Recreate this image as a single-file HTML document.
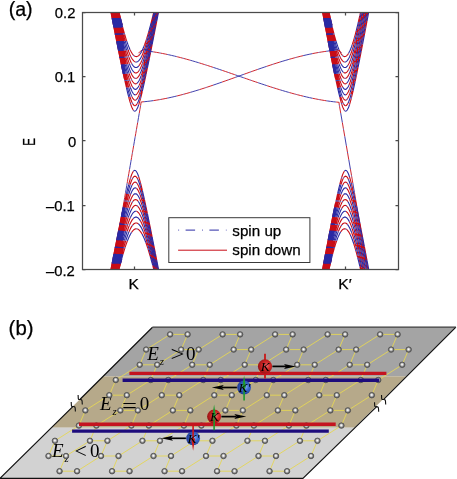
<!DOCTYPE html>
<html><head><meta charset="utf-8"><title>Band structure and valley transport</title>
<style>html,body{margin:0;padding:0;background:#fff;width:457px;height:479px;overflow:hidden}
body{position:relative}</style></head>
<body>
<svg width="457" height="479" viewBox="0 0 457 479" style="position:absolute;left:0;top:0">
<defs><clipPath id="pc"><rect x="82.5" y="12.5" width="316.0" height="257.0"/></clipPath>
<radialGradient id="atom" cx="0.48" cy="0.45" r="0.55"><stop offset="0" stop-color="#ffffff"/><stop offset="0.25" stop-color="#e4e4e4"/><stop offset="0.55" stop-color="#a0a0a0"/><stop offset="0.8" stop-color="#6a6a6a"/><stop offset="1" stop-color="#505050"/></radialGradient>
<radialGradient id="rball" cx="0.6" cy="0.45" r="0.6"><stop offset="0" stop-color="#ee6a6a"/><stop offset="0.45" stop-color="#d22828"/><stop offset="1" stop-color="#961212"/></radialGradient>
<radialGradient id="bball" cx="0.6" cy="0.45" r="0.6"><stop offset="0" stop-color="#7eaaf4"/><stop offset="0.45" stop-color="#3a66c8"/><stop offset="1" stop-color="#1c3690"/></radialGradient>
<clipPath id="plane"><polygon points="152.5,327.2 455.9,327.2 302.9,478.4 0,478.4"/></clipPath>
</defs>
<g clip-path="url(#pc)" fill="none">
<path stroke="#c80c16" stroke-width="1.1" stroke-dasharray="0 9.5 6.4 0.9 6.9 0" stroke-dashoffset="16.8" d="M110.91,11.29 L111.71,15.37 L112.5,19.45 L113.3,23.52 L114.1,27.58 L114.89,31.63 L115.69,35.67 L116.49,39.7 L117.28,43.71 L118.08,47.7 L118.87,51.67 L119.67,55.63 L120.47,59.55 L121.26,63.45 L122.06,67.32 L122.86,71.14 L123.65,74.92 L124.45,78.65 L125.24,82.31 L126.04,85.89 L126.84,89.38 L127.63,92.76 L128.43,95.99 L129.23,99.05 L130.02,101.9 L130.82,104.49 L131.61,106.75 L132.41,108.62 L133.21,110.02 L134,110.9 L134.8,111.19 L135.6,110.9 L136.39,110.02 L137.19,108.62 L137.99,106.75 L138.78,104.49 L139.58,101.9 L140.37,99.05 L141.17,95.99 L141.97,92.76 L142.76,89.38 L143.56,85.89 L144.36,82.31 L145.15,78.65 L145.95,74.92 L146.74,71.14 L147.54,67.32 L148.34,63.45 L149.13,59.55 L149.93,55.63 L150.73,51.67 L151.52,47.7 L152.32,43.71 L153.11,39.7 L153.91,35.67 L154.71,31.63 L155.5,27.58 L156.3,23.52 L157.1,19.45 L157.89,15.37 L158.69,11.29 M111.69,11.29 L112.47,15.28 L113.24,19.26 L114.02,23.24 L114.79,27.2 L115.57,31.14 L116.34,35.07 L117.12,38.98 L117.89,42.87 L118.67,46.74 L119.45,50.58 L120.22,54.39 L121,58.17 L121.77,61.92 L122.55,65.62 L123.32,69.27 L124.1,72.86 L124.87,76.38 L125.65,79.83 L126.42,83.18 L127.2,86.42 L127.97,89.52 L128.75,92.47 L129.52,95.23 L130.3,97.77 L131.07,100.04 L131.85,101.99 L132.62,103.58 L133.4,104.76 L134.17,105.49 L134.95,105.73 L135.73,105.49 L136.5,104.76 L137.28,103.58 L138.05,101.99 L138.83,100.04 L139.6,97.77 L140.38,95.23 L141.15,92.47 L141.93,89.52 L142.7,86.42 L143.48,83.18 L144.25,79.83 L145.03,76.38 L145.8,72.86 L146.58,69.27 L147.35,65.62 L148.13,61.92 L148.9,58.17 L149.68,54.39 L150.45,50.58 L151.23,46.74 L152.01,42.87 L152.78,38.98 L153.56,35.07 L154.33,31.14 L155.11,27.2 L155.88,23.24 L156.66,19.26 L157.43,15.28 L158.21,11.29 M112.47,11.29 L113.23,15.17 L113.98,19.05 L114.74,22.9 L115.49,26.75 L116.24,30.57 L117,34.37 L117.75,38.15 L118.51,41.9 L119.26,45.63 L120.02,49.32 L120.77,52.98 L121.52,56.59 L122.28,60.16 L123.03,63.68 L123.79,67.14 L124.54,70.52 L125.3,73.83 L126.05,77.05 L126.8,80.16 L127.56,83.14 L128.31,85.98 L129.07,88.66 L129.82,91.13 L130.57,93.39 L131.33,95.38 L132.08,97.08 L132.84,98.45 L133.59,99.45 L134.35,100.07 L135.1,100.27 L135.85,100.07 L136.61,99.45 L137.36,98.45 L138.12,97.08 L138.87,95.38 L139.63,93.39 L140.38,91.13 L141.13,88.66 L141.89,85.98 L142.64,83.14 L143.4,80.16 L144.15,77.05 L144.9,73.83 L145.66,70.52 L146.41,67.14 L147.17,63.68 L147.92,60.16 L148.68,56.59 L149.43,52.98 L150.18,49.32 L150.94,45.63 L151.69,41.9 L152.45,38.15 L153.2,34.37 L153.96,30.57 L154.71,26.75 L155.46,22.9 L156.22,19.05 L156.97,15.17 L157.73,11.29 M113.25,11.29 L113.99,15.05 L114.72,18.8 L115.45,22.52 L116.19,26.23 L116.92,29.92 L117.65,33.57 L118.39,37.2 L119.12,40.8 L119.85,44.37 L120.59,47.9 L121.32,51.38 L122.05,54.82 L122.78,58.2 L123.52,61.52 L124.25,64.77 L124.98,67.94 L125.72,71.03 L126.45,74.01 L127.18,76.87 L127.92,79.61 L128.65,82.19 L129.38,84.61 L130.12,86.82 L130.85,88.82 L131.58,90.58 L132.32,92.06 L133.05,93.24 L133.78,94.11 L134.52,94.63 L135.25,94.81 L135.98,94.63 L136.72,94.11 L137.45,93.24 L138.18,92.06 L138.92,90.58 L139.65,88.82 L140.38,86.82 L141.12,84.61 L141.85,82.19 L142.58,79.61 L143.32,76.87 L144.05,74.01 L144.78,71.03 L145.52,67.94 L146.25,64.77 L146.98,61.52 L147.72,58.2 L148.45,54.82 L149.18,51.38 L149.91,47.9 L150.65,44.37 L151.38,40.8 L152.11,37.2 L152.85,33.57 L153.58,29.92 L154.31,26.23 L155.05,22.52 L155.78,18.8 L156.51,15.05 L157.25,11.29 M114.03,11.29 L114.74,14.91 L115.46,18.52 L116.17,22.1 L116.88,25.66 L117.59,29.18 L118.3,32.68 L119.02,36.15 L119.73,39.58 L120.44,42.97 L121.15,46.32 L121.87,49.62 L122.58,52.86 L123.29,56.04 L124,59.15 L124.72,62.19 L125.43,65.14 L126.14,68 L126.85,70.74 L127.56,73.37 L128.28,75.86 L128.99,78.2 L129.7,80.37 L130.41,82.35 L131.13,84.12 L131.84,85.67 L132.55,86.96 L133.26,87.99 L133.98,88.74 L134.69,89.2 L135.4,89.35 L136.11,89.2 L136.82,88.74 L137.54,87.99 L138.25,86.96 L138.96,85.67 L139.67,84.12 L140.39,82.35 L141.1,80.37 L141.81,78.2 L142.52,75.86 L143.24,73.37 L143.95,70.74 L144.66,68 L145.37,65.14 L146.08,62.19 L146.8,59.15 L147.51,56.04 L148.22,52.86 L148.93,49.62 L149.65,46.32 L150.36,42.97 L151.07,39.58 L151.78,36.15 L152.5,32.68 L153.21,29.18 L153.92,25.66 L154.63,22.1 L155.34,18.52 L156.06,14.91 L156.77,11.29 M114.81,11.29 L115.5,14.76 L116.19,18.2 L116.88,21.63 L117.57,25.02 L118.27,28.38 L118.96,31.7 L119.65,34.99 L120.34,38.24 L121.03,41.44 L121.72,44.6 L122.41,47.69 L123.11,50.73 L123.8,53.7 L124.49,56.6 L125.18,59.42 L125.87,62.14 L126.56,64.77 L127.25,67.28 L127.94,69.67 L128.64,71.93 L129.33,74.04 L130.02,75.98 L130.71,77.74 L131.4,79.31 L132.09,80.68 L132.78,81.81 L133.48,82.71 L134.17,83.36 L134.86,83.76 L135.55,83.89 L136.24,83.76 L136.93,83.36 L137.62,82.71 L138.32,81.81 L139.01,80.68 L139.7,79.31 L140.39,77.74 L141.08,75.98 L141.77,74.04 L142.46,71.93 L143.16,69.67 L143.85,67.28 L144.54,64.77 L145.23,62.14 L145.92,59.42 L146.61,56.6 L147.3,53.7 L147.99,50.73 L148.69,47.69 L149.38,44.6 L150.07,41.44 L150.76,38.24 L151.45,34.99 L152.14,31.7 L152.83,28.38 L153.53,25.02 L154.22,21.63 L154.91,18.2 L155.6,14.76 L156.29,11.29 M115.58,11.29 L116.26,14.59 L116.93,17.86 L117.6,21.11 L118.27,24.32 L118.94,27.5 L119.61,30.64 L120.28,33.73 L120.95,36.78 L121.62,39.79 L122.29,42.73 L122.96,45.62 L123.63,48.45 L124.3,51.2 L124.97,53.88 L125.64,56.47 L126.31,58.97 L126.98,61.36 L127.65,63.65 L128.32,65.81 L128.99,67.85 L129.67,69.74 L130.34,71.47 L131.01,73.04 L131.68,74.42 L132.35,75.62 L133.02,76.62 L133.69,77.4 L134.36,77.97 L135.03,78.31 L135.7,78.43 L136.37,78.31 L137.04,77.97 L137.71,77.4 L138.38,76.62 L139.05,75.62 L139.72,74.42 L140.39,73.04 L141.06,71.47 L141.73,69.74 L142.41,67.85 L143.08,65.81 L143.75,63.65 L144.42,61.36 L145.09,58.97 L145.76,56.47 L146.43,53.88 L147.1,51.2 L147.77,48.45 L148.44,45.62 L149.11,42.73 L149.78,39.79 L150.45,36.78 L151.12,33.73 L151.79,30.64 L152.46,27.5 L153.13,24.32 L153.8,21.11 L154.47,17.86 L155.14,14.59 L155.82,11.29 M116.36,11.29 L117.01,14.4 L117.66,17.49 L118.31,20.54 L118.96,23.56 L119.61,26.54 L120.26,29.48 L120.91,32.37 L121.56,35.22 L122.21,38.01 L122.86,40.74 L123.51,43.41 L124.16,46.02 L124.81,48.55 L125.46,51 L126.1,53.36 L126.75,55.64 L127.4,57.81 L128.05,59.87 L128.7,61.82 L129.35,63.64 L130,65.32 L130.65,66.86 L131.3,68.24 L131.95,69.47 L132.6,70.52 L133.25,71.39 L133.9,72.07 L134.55,72.57 L135.2,72.87 L135.85,72.97 L136.5,72.87 L137.15,72.57 L137.8,72.07 L138.45,71.39 L139.1,70.52 L139.75,69.47 L140.4,68.24 L141.05,66.86 L141.7,65.32 L142.35,63.64 L143,61.82 L143.65,59.87 L144.3,57.81 L144.95,55.64 L145.6,53.36 L146.24,51 L146.89,48.55 L147.54,46.02 L148.19,43.41 L148.84,40.74 L149.49,38.01 L150.14,35.22 L150.79,32.37 L151.44,29.48 L152.09,26.54 L152.74,23.56 L153.39,20.54 L154.04,17.49 L154.69,14.4 L155.34,11.29 M117.13,11.29 L117.76,14.2 L118.39,17.09 L119.02,19.94 L119.65,22.75 L120.28,25.52 L120.91,28.24 L121.54,30.92 L122.16,33.54 L122.79,36.11 L123.42,38.62 L124.05,41.07 L124.68,43.45 L125.31,45.75 L125.94,47.98 L126.57,50.12 L127.2,52.17 L127.82,54.12 L128.45,55.97 L129.08,57.7 L129.71,59.32 L130.34,60.81 L130.97,62.17 L131.6,63.39 L132.23,64.46 L132.86,65.38 L133.48,66.13 L134.11,66.73 L134.74,67.16 L135.37,67.42 L136,67.5 L136.63,67.42 L137.26,67.16 L137.89,66.73 L138.52,66.13 L139.14,65.38 L139.77,64.46 L140.4,63.39 L141.03,62.17 L141.66,60.81 L142.29,59.32 L142.92,57.7 L143.55,55.97 L144.18,54.12 L144.8,52.17 L145.43,50.12 L146.06,47.98 L146.69,45.75 L147.32,43.45 L147.95,41.07 L148.58,38.62 L149.21,36.11 L149.84,33.54 L150.46,30.92 L151.09,28.24 L151.72,25.52 L152.35,22.75 L152.98,19.94 L153.61,17.09 L154.24,14.2 L154.87,11.29 M117.9,11.29 L118.51,13.99 L119.12,16.66 L119.73,19.29 L120.34,21.88 L120.95,24.42 L121.55,26.92 L122.16,29.37 L122.77,31.77 L123.38,34.11 L123.99,36.39 L124.59,38.61 L125.2,40.76 L125.81,42.83 L126.42,44.83 L127.03,46.75 L127.64,48.58 L128.24,50.31 L128.85,51.95 L129.46,53.48 L130.07,54.91 L130.68,56.22 L131.28,57.41 L131.89,58.47 L132.5,59.4 L133.11,60.2 L133.72,60.86 L134.33,61.38 L134.93,61.75 L135.54,61.97 L136.15,62.04 L136.76,61.97 L137.37,61.75 L137.97,61.38 L138.58,60.86 L139.19,60.2 L139.8,59.4 L140.41,58.47 L141.02,57.41 L141.62,56.22 L142.23,54.91 L142.84,53.48 L143.45,51.95 L144.06,50.31 L144.66,48.58 L145.27,46.75 L145.88,44.83 L146.49,42.83 L147.1,40.76 L147.71,38.61 L148.31,36.39 L148.92,34.11 L149.53,31.77 L150.14,29.37 L150.75,26.92 L151.35,24.42 L151.96,21.88 L152.57,19.29 L153.18,16.66 L153.79,13.99 L154.4,11.29 M118.67,11.29 L119.26,13.76 L119.85,16.2 L120.43,18.59 L121.02,20.95 L121.61,23.26 L122.2,25.52 L122.79,27.74 L123.37,29.9 L123.96,32 L124.55,34.05 L125.14,36.03 L125.72,37.95 L126.31,39.8 L126.9,41.57 L127.49,43.26 L128.07,44.88 L128.66,46.4 L129.25,47.84 L129.84,49.18 L130.42,50.42 L131.01,51.56 L131.6,52.59 L132.19,53.51 L132.77,54.31 L133.36,55 L133.95,55.57 L134.54,56.01 L135.12,56.33 L135.71,56.52 L136.3,56.58 L136.89,56.52 L137.48,56.33 L138.06,56.01 L138.65,55.57 L139.24,55 L139.83,54.31 L140.41,53.51 L141,52.59 L141.59,51.56 L142.18,50.42 L142.76,49.18 L143.35,47.84 L143.94,46.4 L144.53,44.88 L145.11,43.26 L145.7,41.57 L146.29,39.8 L146.88,37.95 L147.46,36.03 L148.05,34.05 L148.64,32 L149.23,29.9 L149.81,27.74 L150.4,25.52 L150.99,23.26 L151.58,20.95 L152.17,18.59 L152.75,16.2 L153.34,13.76 L153.93,11.29 M110.91,270.21 L111.71,266.13 L112.5,262.05 L113.3,257.98 L114.1,253.92 L114.89,249.87 L115.69,245.83 L116.49,241.8 L117.28,237.79 L118.08,233.8 L118.87,229.83 L119.67,225.87 L120.47,221.95 L121.26,218.05 L122.06,214.18 L122.86,210.36 L123.65,206.58 L124.45,202.85 L125.24,199.19 L126.04,195.61 L126.84,192.12 L127.63,188.74 L128.43,185.51 L129.23,182.45 L130.02,179.6 L130.82,177.01 L131.61,174.75 L132.41,172.88 L133.21,171.48 L134,170.6 L134.8,170.31 L135.6,170.6 L136.39,171.48 L137.19,172.88 L137.99,174.75 L138.78,177.01 L139.58,179.6 L140.37,182.45 L141.17,185.51 L141.97,188.74 L142.76,192.12 L143.56,195.61 L144.36,199.19 L145.15,202.85 L145.95,206.58 L146.74,210.36 L147.54,214.18 L148.34,218.05 L149.13,221.95 L149.93,225.87 L150.73,229.83 L151.52,233.8 L152.32,237.79 L153.11,241.8 L153.91,245.83 L154.71,249.87 L155.5,253.92 L156.3,257.98 L157.1,262.05 L157.89,266.13 L158.69,270.21 M111.69,270.21 L112.47,266.23 L113.24,262.25 L114.02,258.28 L114.79,254.33 L115.57,250.4 L116.34,246.48 L117.12,242.57 L117.89,238.69 L118.67,234.84 L119.45,231 L120.22,227.2 L121,223.43 L121.77,219.7 L122.55,216.01 L123.32,212.38 L124.1,208.8 L124.87,205.29 L125.65,201.86 L126.42,198.53 L127.2,195.31 L127.97,192.22 L128.75,189.29 L129.52,186.55 L130.3,184.03 L131.07,181.79 L131.85,179.85 L132.62,178.28 L133.4,177.11 L134.17,176.39 L134.95,176.15 L135.73,176.39 L136.5,177.11 L137.28,178.28 L138.05,179.85 L138.83,181.79 L139.6,184.03 L140.38,186.55 L141.15,189.29 L141.93,192.22 L142.7,195.31 L143.48,198.53 L144.25,201.86 L145.03,205.29 L145.8,208.8 L146.58,212.38 L147.35,216.01 L148.13,219.7 L148.9,223.43 L149.68,227.2 L150.45,231 L151.23,234.84 L152.01,238.69 L152.78,242.57 L153.56,246.48 L154.33,250.4 L155.11,254.33 L155.88,258.28 L156.66,262.25 L157.43,266.23 L158.21,270.21 M112.47,270.21 L113.23,266.34 L113.98,262.49 L114.74,258.65 L115.49,254.82 L116.24,251.02 L117,247.24 L117.75,243.48 L118.51,239.75 L119.26,236.04 L120.01,232.37 L120.77,228.74 L121.52,225.15 L122.28,221.6 L123.03,218.11 L123.79,214.68 L124.54,211.33 L125.29,208.05 L126.05,204.87 L126.8,201.79 L127.56,198.84 L128.31,196.04 L129.07,193.4 L129.82,190.96 L130.57,188.75 L131.33,186.79 L132.08,185.13 L132.84,183.79 L133.59,182.8 L134.35,182.2 L135.1,182 L135.85,182.2 L136.61,182.8 L137.36,183.79 L138.12,185.13 L138.87,186.79 L139.63,188.75 L140.38,190.96 L141.13,193.4 L141.89,196.04 L142.64,198.84 L143.4,201.79 L144.15,204.87 L144.91,208.05 L145.66,211.33 L146.41,214.68 L147.17,218.11 L147.92,221.6 L148.68,225.15 L149.43,228.74 L150.19,232.37 L150.94,236.04 L151.69,239.75 L152.45,243.48 L153.2,247.24 L153.96,251.02 L154.71,254.82 L155.46,258.65 L156.22,262.49 L156.97,266.34 L157.73,270.21 M113.25,270.21 L113.98,266.48 L114.72,262.76 L115.45,259.06 L116.18,255.39 L116.92,251.73 L117.65,248.11 L118.38,244.51 L119.12,240.94 L119.85,237.41 L120.58,233.92 L121.32,230.48 L122.05,227.08 L122.78,223.74 L123.52,220.47 L124.25,217.26 L124.98,214.13 L125.72,211.1 L126.45,208.17 L127.18,205.35 L127.92,202.67 L128.65,200.14 L129.38,197.78 L130.12,195.61 L130.85,193.66 L131.58,191.95 L132.32,190.51 L133.05,189.36 L133.78,188.53 L134.52,188.02 L135.25,187.85 L135.98,188.02 L136.72,188.53 L137.45,189.36 L138.18,190.51 L138.92,191.95 L139.65,193.66 L140.38,195.61 L141.12,197.78 L141.85,200.14 L142.58,202.67 L143.32,205.35 L144.05,208.17 L144.78,211.1 L145.52,214.13 L146.25,217.26 L146.98,220.47 L147.72,223.74 L148.45,227.08 L149.18,230.48 L149.92,233.92 L150.65,237.41 L151.38,240.94 L152.12,244.51 L152.85,248.11 L153.58,251.73 L154.32,255.39 L155.05,259.06 L155.78,262.76 L156.52,266.48 L157.25,270.21 M114.03,270.21 L114.74,266.63 L115.45,263.07 L116.17,259.53 L116.88,256.02 L117.59,252.54 L118.3,249.08 L119.02,245.66 L119.73,242.28 L120.44,238.95 L121.15,235.65 L121.86,232.41 L122.58,229.22 L123.29,226.1 L124,223.05 L124.71,220.07 L125.43,217.19 L126.14,214.4 L126.85,211.72 L127.56,209.16 L128.28,206.73 L128.99,204.46 L129.7,202.36 L130.41,200.44 L131.13,198.73 L131.84,197.24 L132.55,195.99 L133.26,194.99 L133.98,194.27 L134.69,193.84 L135.4,193.69 L136.11,193.84 L136.82,194.27 L137.54,194.99 L138.25,195.99 L138.96,197.24 L139.67,198.73 L140.39,200.44 L141.1,202.36 L141.81,204.46 L142.52,206.73 L143.24,209.16 L143.95,211.72 L144.66,214.4 L145.37,217.19 L146.09,220.07 L146.8,223.05 L147.51,226.1 L148.22,229.22 L148.94,232.41 L149.65,235.65 L150.36,238.95 L151.07,242.28 L151.78,245.66 L152.5,249.08 L153.21,252.54 L153.92,256.02 L154.63,259.53 L155.35,263.07 L156.06,266.63 L156.77,270.21 M114.81,270.21 L115.5,266.8 L116.19,263.41 L116.88,260.05 L117.57,256.72 L118.26,253.42 L118.95,250.16 L119.65,246.94 L120.34,243.76 L121.03,240.63 L121.72,237.55 L122.41,234.52 L123.1,231.56 L123.79,228.66 L124.49,225.84 L125.18,223.1 L125.87,220.46 L126.56,217.92 L127.25,215.48 L127.94,213.17 L128.64,211 L129.33,208.97 L130.02,207.1 L130.71,205.41 L131.4,203.9 L132.09,202.6 L132.78,201.52 L133.48,200.66 L134.17,200.04 L134.86,199.66 L135.55,199.54 L136.24,199.66 L136.93,200.04 L137.62,200.66 L138.32,201.52 L139.01,202.6 L139.7,203.9 L140.39,205.41 L141.08,207.1 L141.77,208.97 L142.46,211 L143.16,213.17 L143.85,215.48 L144.54,217.92 L145.23,220.46 L145.92,223.1 L146.61,225.84 L147.31,228.66 L148,231.56 L148.69,234.52 L149.38,237.55 L150.07,240.63 L150.76,243.76 L151.45,246.94 L152.15,250.16 L152.84,253.42 L153.53,256.72 L154.22,260.05 L154.91,263.41 L155.6,266.8 L156.29,270.21 M115.58,270.21 L116.25,266.99 L116.92,263.79 L117.59,260.63 L118.26,257.49 L118.93,254.4 L119.6,251.34 L120.27,248.33 L120.95,245.37 L121.62,242.45 L122.29,239.59 L122.96,236.8 L123.63,234.06 L124.3,231.4 L124.97,228.82 L125.64,226.33 L126.31,223.92 L126.98,221.62 L127.65,219.43 L128.32,217.36 L128.99,215.42 L129.66,213.62 L130.33,211.97 L131.01,210.48 L131.68,209.17 L132.35,208.04 L133.02,207.09 L133.69,206.35 L134.36,205.82 L135.03,205.49 L135.7,205.39 L136.37,205.49 L137.04,205.82 L137.71,206.35 L138.38,207.09 L139.05,208.04 L139.72,209.17 L140.39,210.48 L141.07,211.97 L141.74,213.62 L142.41,215.42 L143.08,217.36 L143.75,219.43 L144.42,221.62 L145.09,223.92 L145.76,226.33 L146.43,228.82 L147.1,231.4 L147.77,234.06 L148.44,236.8 L149.11,239.59 L149.78,242.45 L150.45,245.37 L151.13,248.33 L151.8,251.34 L152.47,254.4 L153.14,257.49 L153.81,260.63 L154.48,263.79 L155.15,266.99 L155.82,270.21 M116.35,270.21 L117,267.19 L117.65,264.2 L118.3,261.25 L118.95,258.33 L119.6,255.46 L120.25,252.62 L120.9,249.83 L121.55,247.1 L122.2,244.41 L122.85,241.79 L123.5,239.23 L124.15,236.74 L124.8,234.32 L125.45,231.98 L126.1,229.72 L126.75,227.56 L127.4,225.5 L128.05,223.54 L128.7,221.7 L129.35,219.98 L130,218.4 L130.65,216.95 L131.3,215.65 L131.95,214.5 L132.6,213.52 L133.25,212.7 L133.9,212.06 L134.55,211.6 L135.2,211.33 L135.85,211.23 L136.5,211.33 L137.15,211.6 L137.8,212.06 L138.45,212.7 L139.1,213.52 L139.75,214.5 L140.4,215.65 L141.05,216.95 L141.7,218.4 L142.35,219.98 L143,221.7 L143.65,223.54 L144.3,225.5 L144.95,227.56 L145.6,229.72 L146.25,231.98 L146.9,234.32 L147.55,236.74 L148.2,239.23 L148.85,241.79 L149.5,244.41 L150.15,247.1 L150.8,249.83 L151.45,252.62 L152.1,255.46 L152.75,258.33 L153.4,261.25 L154.05,264.2 L154.7,267.19 L155.35,270.21 M117.12,270.21 L117.75,267.42 L118.38,264.65 L119.01,261.92 L119.64,259.24 L120.27,256.59 L120.9,253.99 L121.53,251.44 L122.16,248.95 L122.79,246.51 L123.42,244.12 L124.05,241.81 L124.67,239.56 L125.3,237.38 L125.93,235.28 L126.56,233.27 L127.19,231.35 L127.82,229.52 L128.45,227.79 L129.08,226.17 L129.71,224.66 L130.34,223.27 L130.97,222.01 L131.6,220.88 L132.22,219.89 L132.85,219.04 L133.48,218.34 L134.11,217.79 L134.74,217.4 L135.37,217.16 L136,217.08 L136.63,217.16 L137.26,217.4 L137.89,217.79 L138.52,218.34 L139.15,219.04 L139.78,219.89 L140.4,220.88 L141.03,222.01 L141.66,223.27 L142.29,224.66 L142.92,226.17 L143.55,227.79 L144.18,229.52 L144.81,231.35 L145.44,233.27 L146.07,235.28 L146.7,237.38 L147.33,239.56 L147.95,241.81 L148.58,244.12 L149.21,246.51 L149.84,248.95 L150.47,251.44 L151.1,253.99 L151.73,256.59 L152.36,259.24 L152.99,261.92 L153.62,264.65 L154.25,267.42 L154.88,270.21 M117.89,270.21 L118.5,267.65 L119.11,265.13 L119.72,262.65 L120.33,260.21 L120.93,257.81 L121.54,255.46 L122.15,253.16 L122.76,250.91 L123.37,248.72 L123.98,246.58 L124.59,244.52 L125.2,242.51 L125.8,240.58 L126.41,238.73 L127.02,236.95 L127.63,235.26 L128.24,233.66 L128.85,232.15 L129.46,230.74 L130.06,229.43 L130.67,228.23 L131.28,227.15 L131.89,226.18 L132.5,225.33 L133.11,224.6 L133.72,224 L134.32,223.53 L134.93,223.2 L135.54,222.99 L136.15,222.93 L136.76,222.99 L137.37,223.2 L137.98,223.53 L138.58,224 L139.19,224.6 L139.8,225.33 L140.41,226.18 L141.02,227.15 L141.63,228.23 L142.24,229.43 L142.84,230.74 L143.45,232.15 L144.06,233.66 L144.67,235.26 L145.28,236.95 L145.89,238.73 L146.5,240.58 L147.1,242.51 L147.71,244.52 L148.32,246.58 L148.93,248.72 L149.54,250.91 L150.15,253.16 L150.76,255.46 L151.37,257.81 L151.97,260.21 L152.58,262.65 L153.19,265.13 L153.8,267.65 L154.41,270.21 M118.65,270.21 L119.24,267.91 L119.83,265.65 L120.42,263.42 L121.01,261.24 L121.6,259.1 L122.18,257.01 L122.77,254.97 L123.36,252.98 L123.95,251.04 L124.54,249.16 L125.12,247.35 L125.71,245.6 L126.3,243.91 L126.89,242.3 L127.48,240.76 L128.07,239.29 L128.65,237.91 L129.24,236.61 L129.83,235.41 L130.42,234.29 L131.01,233.27 L131.59,232.34 L132.18,231.52 L132.77,230.8 L133.36,230.18 L133.95,229.68 L134.54,229.28 L135.12,229 L135.71,228.83 L136.3,228.77 L136.89,228.83 L137.48,229 L138.06,229.28 L138.65,229.68 L139.24,230.18 L139.83,230.8 L140.42,231.52 L141.01,232.34 L141.59,233.27 L142.18,234.29 L142.77,235.41 L143.36,236.61 L143.95,237.91 L144.53,239.29 L145.12,240.76 L145.71,242.3 L146.3,243.91 L146.89,245.6 L147.48,247.35 L148.06,249.16 L148.65,251.04 L149.24,252.98 L149.83,254.97 L150.42,257.01 L151,259.1 L151.59,261.24 L152.18,263.42 L152.77,265.65 L153.36,267.91 L153.95,270.21 M322.52,11.29 L323.29,15.37 L324.06,19.45 L324.84,23.52 L325.61,27.58 L326.38,31.63 L327.15,35.67 L327.93,39.7 L328.7,43.71 L329.47,47.7 L330.25,51.67 L331.02,55.63 L331.79,59.55 L332.56,63.45 L333.34,67.32 L334.11,71.14 L334.88,74.92 L335.65,78.65 L336.43,82.31 L337.2,85.89 L337.97,89.38 L338.75,92.76 L339.52,95.99 L340.29,99.05 L341.06,101.9 L341.84,104.49 L342.61,106.75 L343.38,108.62 L344.15,110.02 L344.93,110.9 L345.7,111.19 L346.47,110.9 L347.25,110.02 L348.02,108.62 L348.79,106.75 L349.56,104.49 L350.34,101.9 L351.11,99.05 L351.88,95.99 L352.65,92.76 L353.43,89.38 L354.2,85.89 L354.97,82.31 L355.75,78.65 L356.52,74.92 L357.29,71.14 L358.06,67.32 L358.84,63.45 L359.61,59.55 L360.38,55.63 L361.15,51.67 L361.93,47.7 L362.7,43.71 L363.47,39.7 L364.25,35.67 L365.02,31.63 L365.79,27.58 L366.56,23.52 L367.34,19.45 L368.11,15.37 L368.88,11.29 M323.14,11.29 L323.89,15.28 L324.64,19.26 L325.39,23.24 L326.13,27.2 L326.88,31.14 L327.63,35.07 L328.38,38.98 L329.13,42.87 L329.88,46.74 L330.63,50.58 L331.38,54.39 L332.12,58.17 L332.87,61.92 L333.62,65.62 L334.37,69.27 L335.12,72.86 L335.87,76.38 L336.62,79.83 L337.36,83.18 L338.11,86.42 L338.86,89.52 L339.61,92.47 L340.36,95.23 L341.11,97.77 L341.86,100.04 L342.61,101.99 L343.35,103.58 L344.1,104.76 L344.85,105.49 L345.6,105.73 L346.35,105.49 L347.1,104.76 L347.85,103.58 L348.59,101.99 L349.34,100.04 L350.09,97.77 L350.84,95.23 L351.59,92.47 L352.34,89.52 L353.09,86.42 L353.84,83.18 L354.58,79.83 L355.33,76.38 L356.08,72.86 L356.83,69.27 L357.58,65.62 L358.33,61.92 L359.08,58.17 L359.82,54.39 L360.57,50.58 L361.32,46.74 L362.07,42.87 L362.82,38.98 L363.57,35.07 L364.32,31.14 L365.07,27.2 L365.81,23.24 L366.56,19.26 L367.31,15.28 L368.06,11.29 M323.76,11.29 L324.49,15.17 L325.21,19.05 L325.93,22.9 L326.66,26.75 L327.38,30.57 L328.11,34.37 L328.83,38.15 L329.56,41.9 L330.28,45.63 L331.01,49.32 L331.73,52.98 L332.46,56.59 L333.18,60.16 L333.91,63.68 L334.63,67.14 L335.35,70.52 L336.08,73.83 L336.8,77.05 L337.53,80.16 L338.25,83.14 L338.98,85.98 L339.7,88.66 L340.43,91.13 L341.15,93.39 L341.88,95.38 L342.6,97.08 L343.33,98.45 L344.05,99.45 L344.78,100.07 L345.5,100.27 L346.22,100.07 L346.95,99.45 L347.67,98.45 L348.4,97.08 L349.12,95.38 L349.85,93.39 L350.57,91.13 L351.3,88.66 L352.02,85.98 L352.75,83.14 L353.47,80.16 L354.2,77.05 L354.92,73.83 L355.65,70.52 L356.37,67.14 L357.09,63.68 L357.82,60.16 L358.54,56.59 L359.27,52.98 L359.99,49.32 L360.72,45.63 L361.44,41.9 L362.17,38.15 L362.89,34.37 L363.62,30.57 L364.34,26.75 L365.07,22.9 L365.79,19.05 L366.51,15.17 L367.24,11.29 M324.38,11.29 L325.08,15.05 L325.78,18.8 L326.48,22.52 L327.18,26.23 L327.88,29.92 L328.58,33.57 L329.29,37.2 L329.99,40.8 L330.69,44.37 L331.39,47.9 L332.09,51.38 L332.79,54.82 L333.49,58.2 L334.19,61.52 L334.89,64.77 L335.59,67.94 L336.29,71.03 L336.99,74.01 L337.69,76.87 L338.39,79.61 L339.09,82.19 L339.79,84.61 L340.5,86.82 L341.2,88.82 L341.9,90.58 L342.6,92.06 L343.3,93.24 L344,94.11 L344.7,94.63 L345.4,94.81 L346.1,94.63 L346.8,94.11 L347.5,93.24 L348.2,92.06 L348.9,90.58 L349.6,88.82 L350.3,86.82 L351.01,84.61 L351.71,82.19 L352.41,79.61 L353.11,76.87 L353.81,74.01 L354.51,71.03 L355.21,67.94 L355.91,64.77 L356.61,61.52 L357.31,58.2 L358.01,54.82 L358.71,51.38 L359.41,47.9 L360.11,44.37 L360.81,40.8 L361.51,37.2 L362.22,33.57 L362.92,29.92 L363.62,26.23 L364.32,22.52 L365.02,18.8 L365.72,15.05 L366.42,11.29 M325,11.29 L325.68,14.91 L326.35,18.52 L327.03,22.1 L327.71,25.66 L328.38,29.18 L329.06,32.68 L329.74,36.15 L330.41,39.58 L331.09,42.97 L331.77,46.32 L332.44,49.62 L333.12,52.86 L333.8,56.04 L334.47,59.15 L335.15,62.19 L335.83,65.14 L336.5,68 L337.18,70.74 L337.86,73.37 L338.53,75.86 L339.21,78.2 L339.89,80.37 L340.56,82.35 L341.24,84.12 L341.92,85.67 L342.59,86.96 L343.27,87.99 L343.95,88.74 L344.62,89.2 L345.3,89.35 L345.98,89.2 L346.65,88.74 L347.33,87.99 L348.01,86.96 L348.68,85.67 L349.36,84.12 L350.04,82.35 L350.71,80.37 L351.39,78.2 L352.07,75.86 L352.74,73.37 L353.42,70.74 L354.1,68 L354.77,65.14 L355.45,62.19 L356.13,59.15 L356.8,56.04 L357.48,52.86 L358.16,49.62 L358.83,46.32 L359.51,42.97 L360.19,39.58 L360.86,36.15 L361.54,32.68 L362.22,29.18 L362.89,25.66 L363.57,22.1 L364.25,18.52 L364.92,14.91 L365.6,11.29 M325.62,11.29 L326.27,14.76 L326.92,18.2 L327.58,21.63 L328.23,25.02 L328.88,28.38 L329.54,31.7 L330.19,34.99 L330.84,38.24 L331.49,41.44 L332.15,44.6 L332.8,47.69 L333.45,50.73 L334.1,53.7 L334.76,56.6 L335.41,59.42 L336.06,62.14 L336.72,64.77 L337.37,67.28 L338.02,69.67 L338.67,71.93 L339.33,74.04 L339.98,75.98 L340.63,77.74 L341.28,79.31 L341.94,80.68 L342.59,81.81 L343.24,82.71 L343.89,83.36 L344.55,83.76 L345.2,83.89 L345.85,83.76 L346.51,83.36 L347.16,82.71 L347.81,81.81 L348.46,80.68 L349.12,79.31 L349.77,77.74 L350.42,75.98 L351.07,74.04 L351.73,71.93 L352.38,69.67 L353.03,67.28 L353.68,64.77 L354.34,62.14 L354.99,59.42 L355.64,56.6 L356.3,53.7 L356.95,50.73 L357.6,47.69 L358.25,44.6 L358.91,41.44 L359.56,38.24 L360.21,34.99 L360.86,31.7 L361.52,28.38 L362.17,25.02 L362.82,21.63 L363.48,18.2 L364.13,14.76 L364.78,11.29 M326.24,11.29 L326.87,14.59 L327.49,17.86 L328.12,21.11 L328.75,24.32 L329.38,27.5 L330.01,30.64 L330.64,33.73 L331.27,36.78 L331.9,39.79 L332.52,42.73 L333.15,45.62 L333.78,48.45 L334.41,51.2 L335.04,53.88 L335.67,56.47 L336.3,58.97 L336.93,61.36 L337.55,63.65 L338.18,65.81 L338.81,67.85 L339.44,69.74 L340.07,71.47 L340.7,73.04 L341.33,74.42 L341.96,75.62 L342.58,76.62 L343.21,77.4 L343.84,77.97 L344.47,78.31 L345.1,78.43 L345.73,78.31 L346.36,77.97 L346.99,77.4 L347.62,76.62 L348.24,75.62 L348.87,74.42 L349.5,73.04 L350.13,71.47 L350.76,69.74 L351.39,67.85 L352.02,65.81 L352.65,63.65 L353.27,61.36 L353.9,58.97 L354.53,56.47 L355.16,53.88 L355.79,51.2 L356.42,48.45 L357.05,45.62 L357.68,42.73 L358.3,39.79 L358.93,36.78 L359.56,33.73 L360.19,30.64 L360.82,27.5 L361.45,24.32 L362.08,21.11 L362.71,17.86 L363.33,14.59 L363.96,11.29 M326.85,11.29 L327.46,14.4 L328.06,17.49 L328.67,20.54 L329.27,23.56 L329.88,26.54 L330.48,29.48 L331.09,32.37 L331.69,35.22 L332.3,38.01 L332.9,40.74 L333.51,43.41 L334.11,46.02 L334.72,48.55 L335.32,51 L335.93,53.36 L336.53,55.64 L337.14,57.81 L337.74,59.87 L338.35,61.82 L338.95,63.64 L339.56,65.32 L340.16,66.86 L340.77,68.24 L341.37,69.47 L341.98,70.52 L342.58,71.39 L343.19,72.07 L343.79,72.57 L344.4,72.87 L345,72.97 L345.6,72.87 L346.21,72.57 L346.81,72.07 L347.42,71.39 L348.02,70.52 L348.63,69.47 L349.23,68.24 L349.84,66.86 L350.44,65.32 L351.05,63.64 L351.65,61.82 L352.26,59.87 L352.86,57.81 L353.47,55.64 L354.07,53.36 L354.68,51 L355.28,48.55 L355.89,46.02 L356.49,43.41 L357.1,40.74 L357.7,38.01 L358.31,35.22 L358.91,32.37 L359.52,29.48 L360.12,26.54 L360.73,23.56 L361.33,20.54 L361.94,17.49 L362.54,14.4 L363.15,11.29 M327.47,11.29 L328.05,14.2 L328.63,17.09 L329.21,19.94 L329.79,22.75 L330.37,25.52 L330.96,28.24 L331.54,30.92 L332.12,33.54 L332.7,36.11 L333.28,38.62 L333.86,41.07 L334.44,43.45 L335.02,45.75 L335.6,47.98 L336.18,50.12 L336.77,52.17 L337.35,54.12 L337.93,55.97 L338.51,57.7 L339.09,59.32 L339.67,60.81 L340.25,62.17 L340.83,63.39 L341.41,64.46 L341.99,65.38 L342.58,66.13 L343.16,66.73 L343.74,67.16 L344.32,67.42 L344.9,67.5 L345.48,67.42 L346.06,67.16 L346.64,66.73 L347.22,66.13 L347.81,65.38 L348.39,64.46 L348.97,63.39 L349.55,62.17 L350.13,60.81 L350.71,59.32 L351.29,57.7 L351.87,55.97 L352.45,54.12 L353.03,52.17 L353.62,50.12 L354.2,47.98 L354.78,45.75 L355.36,43.45 L355.94,41.07 L356.52,38.62 L357.1,36.11 L357.68,33.54 L358.26,30.92 L358.84,28.24 L359.43,25.52 L360.01,22.75 L360.59,19.94 L361.17,17.09 L361.75,14.2 L362.33,11.29 M328.08,11.29 L328.64,13.99 L329.2,16.66 L329.75,19.29 L330.31,21.88 L330.87,24.42 L331.43,26.92 L331.98,29.37 L332.54,31.77 L333.1,34.11 L333.65,36.39 L334.21,38.61 L334.77,40.76 L335.33,42.83 L335.88,44.83 L336.44,46.75 L337,48.58 L337.56,50.31 L338.11,51.95 L338.67,53.48 L339.23,54.91 L339.78,56.22 L340.34,57.41 L340.9,58.47 L341.46,59.4 L342.01,60.2 L342.57,60.86 L343.13,61.38 L343.69,61.75 L344.24,61.97 L344.8,62.04 L345.36,61.97 L345.91,61.75 L346.47,61.38 L347.03,60.86 L347.59,60.2 L348.14,59.4 L348.7,58.47 L349.26,57.41 L349.82,56.22 L350.37,54.91 L350.93,53.48 L351.49,51.95 L352.04,50.31 L352.6,48.58 L353.16,46.75 L353.72,44.83 L354.27,42.83 L354.83,40.76 L355.39,38.61 L355.95,36.39 L356.5,34.11 L357.06,31.77 L357.62,29.37 L358.17,26.92 L358.73,24.42 L359.29,21.88 L359.85,19.29 L360.4,16.66 L360.96,13.99 L361.52,11.29 M328.69,11.29 L329.23,13.76 L329.76,16.2 L330.29,18.59 L330.83,20.95 L331.36,23.26 L331.89,25.52 L332.43,27.74 L332.96,29.9 L333.5,32 L334.03,34.05 L334.56,36.03 L335.1,37.95 L335.63,39.8 L336.16,41.57 L336.7,43.26 L337.23,44.88 L337.76,46.4 L338.3,47.84 L338.83,49.18 L339.36,50.42 L339.9,51.56 L340.43,52.59 L340.97,53.51 L341.5,54.31 L342.03,55 L342.57,55.57 L343.1,56.01 L343.63,56.33 L344.17,56.52 L344.7,56.58 L345.23,56.52 L345.77,56.33 L346.3,56.01 L346.83,55.57 L347.37,55 L347.9,54.31 L348.43,53.51 L348.97,52.59 L349.5,51.56 L350.04,50.42 L350.57,49.18 L351.1,47.84 L351.64,46.4 L352.17,44.88 L352.7,43.26 L353.24,41.57 L353.77,39.8 L354.3,37.95 L354.84,36.03 L355.37,34.05 L355.9,32 L356.44,29.9 L356.97,27.74 L357.51,25.52 L358.04,23.26 L358.57,20.95 L359.11,18.59 L359.64,16.2 L360.17,13.76 L360.71,11.29 M322.52,270.21 L323.29,266.13 L324.06,262.05 L324.84,257.98 L325.61,253.92 L326.38,249.87 L327.15,245.83 L327.93,241.8 L328.7,237.79 L329.47,233.8 L330.25,229.83 L331.02,225.87 L331.79,221.95 L332.56,218.05 L333.34,214.18 L334.11,210.36 L334.88,206.58 L335.65,202.85 L336.43,199.19 L337.2,195.61 L337.97,192.12 L338.75,188.74 L339.52,185.51 L340.29,182.45 L341.06,179.6 L341.84,177.01 L342.61,174.75 L343.38,172.88 L344.15,171.48 L344.93,170.6 L345.7,170.31 L346.47,170.6 L347.25,171.48 L348.02,172.88 L348.79,174.75 L349.56,177.01 L350.34,179.6 L351.11,182.45 L351.88,185.51 L352.65,188.74 L353.43,192.12 L354.2,195.61 L354.97,199.19 L355.75,202.85 L356.52,206.58 L357.29,210.36 L358.06,214.18 L358.84,218.05 L359.61,221.95 L360.38,225.87 L361.15,229.83 L361.93,233.8 L362.7,237.79 L363.47,241.8 L364.25,245.83 L365.02,249.87 L365.79,253.92 L366.56,257.98 L367.34,262.05 L368.11,266.13 L368.88,270.21 M323.14,270.21 L323.89,266.23 L324.64,262.25 L325.39,258.28 L326.13,254.33 L326.88,250.4 L327.63,246.48 L328.38,242.57 L329.13,238.69 L329.88,234.84 L330.63,231 L331.37,227.2 L332.12,223.43 L332.87,219.7 L333.62,216.01 L334.37,212.38 L335.12,208.8 L335.87,205.29 L336.62,201.86 L337.36,198.53 L338.11,195.31 L338.86,192.22 L339.61,189.29 L340.36,186.55 L341.11,184.03 L341.86,181.79 L342.61,179.85 L343.35,178.28 L344.1,177.11 L344.85,176.39 L345.6,176.15 L346.35,176.39 L347.1,177.11 L347.85,178.28 L348.59,179.85 L349.34,181.79 L350.09,184.03 L350.84,186.55 L351.59,189.29 L352.34,192.22 L353.09,195.31 L353.84,198.53 L354.58,201.86 L355.33,205.29 L356.08,208.8 L356.83,212.38 L357.58,216.01 L358.33,219.7 L359.08,223.43 L359.83,227.2 L360.57,231 L361.32,234.84 L362.07,238.69 L362.82,242.57 L363.57,246.48 L364.32,250.4 L365.07,254.33 L365.81,258.28 L366.56,262.25 L367.31,266.23 L368.06,270.21 M323.76,270.21 L324.48,266.34 L325.21,262.49 L325.93,258.65 L326.66,254.82 L327.38,251.02 L328.11,247.24 L328.83,243.48 L329.56,239.75 L330.28,236.04 L331.01,232.37 L331.73,228.74 L332.46,225.15 L333.18,221.6 L333.91,218.11 L334.63,214.68 L335.35,211.33 L336.08,208.05 L336.8,204.87 L337.53,201.79 L338.25,198.84 L338.98,196.04 L339.7,193.4 L340.43,190.96 L341.15,188.75 L341.88,186.79 L342.6,185.13 L343.33,183.79 L344.05,182.8 L344.78,182.2 L345.5,182 L346.22,182.2 L346.95,182.8 L347.67,183.79 L348.4,185.13 L349.12,186.79 L349.85,188.75 L350.57,190.96 L351.3,193.4 L352.02,196.04 L352.75,198.84 L353.47,201.79 L354.2,204.87 L354.92,208.05 L355.65,211.33 L356.37,214.68 L357.09,218.11 L357.82,221.6 L358.54,225.15 L359.27,228.74 L359.99,232.37 L360.72,236.04 L361.44,239.75 L362.17,243.48 L362.89,247.24 L363.62,251.02 L364.34,254.82 L365.07,258.65 L365.79,262.49 L366.52,266.34 L367.24,270.21 M324.38,270.21 L325.08,266.48 L325.78,262.76 L326.48,259.06 L327.18,255.39 L327.88,251.73 L328.58,248.11 L329.28,244.51 L329.99,240.94 L330.69,237.41 L331.39,233.92 L332.09,230.48 L332.79,227.08 L333.49,223.74 L334.19,220.47 L334.89,217.26 L335.59,214.13 L336.29,211.1 L336.99,208.17 L337.69,205.35 L338.39,202.67 L339.09,200.14 L339.79,197.78 L340.5,195.61 L341.2,193.66 L341.9,191.95 L342.6,190.51 L343.3,189.36 L344,188.53 L344.7,188.02 L345.4,187.85 L346.1,188.02 L346.8,188.53 L347.5,189.36 L348.2,190.51 L348.9,191.95 L349.6,193.66 L350.3,195.61 L351.01,197.78 L351.71,200.14 L352.41,202.67 L353.11,205.35 L353.81,208.17 L354.51,211.1 L355.21,214.13 L355.91,217.26 L356.61,220.47 L357.31,223.74 L358.01,227.08 L358.71,230.48 L359.41,233.92 L360.11,237.41 L360.81,240.94 L361.52,244.51 L362.22,248.11 L362.92,251.73 L363.62,255.39 L364.32,259.06 L365.02,262.76 L365.72,266.48 L366.42,270.21 M325,270.21 L325.68,266.63 L326.35,263.07 L327.03,259.53 L327.71,256.02 L328.38,252.54 L329.06,249.08 L329.74,245.66 L330.41,242.28 L331.09,238.95 L331.77,235.65 L332.44,232.41 L333.12,229.22 L333.8,226.1 L334.47,223.05 L335.15,220.07 L335.83,217.19 L336.5,214.4 L337.18,211.72 L337.86,209.16 L338.53,206.73 L339.21,204.46 L339.89,202.36 L340.56,200.44 L341.24,198.73 L341.92,197.24 L342.59,195.99 L343.27,194.99 L343.95,194.27 L344.62,193.84 L345.3,193.69 L345.98,193.84 L346.65,194.27 L347.33,194.99 L348.01,195.99 L348.68,197.24 L349.36,198.73 L350.04,200.44 L350.71,202.36 L351.39,204.46 L352.07,206.73 L352.74,209.16 L353.42,211.72 L354.1,214.4 L354.77,217.19 L355.45,220.07 L356.13,223.05 L356.8,226.1 L357.48,229.22 L358.16,232.41 L358.83,235.65 L359.51,238.95 L360.19,242.28 L360.86,245.66 L361.54,249.08 L362.22,252.54 L362.89,256.02 L363.57,259.53 L364.25,263.07 L364.92,266.63 L365.6,270.21 M325.62,270.21 L326.27,266.8 L326.92,263.41 L327.57,260.05 L328.23,256.72 L328.88,253.42 L329.53,250.16 L330.19,246.94 L330.84,243.76 L331.49,240.63 L332.14,237.55 L332.8,234.52 L333.45,231.56 L334.1,228.66 L334.76,225.84 L335.41,223.1 L336.06,220.46 L336.71,217.92 L337.37,215.48 L338.02,213.17 L338.67,211 L339.32,208.97 L339.98,207.1 L340.63,205.41 L341.28,203.9 L341.94,202.6 L342.59,201.52 L343.24,200.66 L343.89,200.04 L344.55,199.66 L345.2,199.54 L345.85,199.66 L346.51,200.04 L347.16,200.66 L347.81,201.52 L348.46,202.6 L349.12,203.9 L349.77,205.41 L350.42,207.1 L351.08,208.97 L351.73,211 L352.38,213.17 L353.03,215.48 L353.69,217.92 L354.34,220.46 L354.99,223.1 L355.64,225.84 L356.3,228.66 L356.95,231.56 L357.6,234.52 L358.26,237.55 L358.91,240.63 L359.56,243.76 L360.21,246.94 L360.87,250.16 L361.52,253.42 L362.17,256.72 L362.83,260.05 L363.48,263.41 L364.13,266.8 L364.78,270.21 M326.23,270.21 L326.86,266.99 L327.49,263.79 L328.12,260.63 L328.75,257.49 L329.38,254.4 L330.01,251.34 L330.64,248.33 L331.26,245.37 L331.89,242.45 L332.52,239.59 L333.15,236.8 L333.78,234.06 L334.41,231.4 L335.04,228.82 L335.67,226.33 L336.3,223.92 L336.92,221.62 L337.55,219.43 L338.18,217.36 L338.81,215.42 L339.44,213.62 L340.07,211.97 L340.7,210.48 L341.33,209.17 L341.96,208.04 L342.58,207.09 L343.21,206.35 L343.84,205.82 L344.47,205.49 L345.1,205.39 L345.73,205.49 L346.36,205.82 L346.99,206.35 L347.62,207.09 L348.24,208.04 L348.87,209.17 L349.5,210.48 L350.13,211.97 L350.76,213.62 L351.39,215.42 L352.02,217.36 L352.65,219.43 L353.28,221.62 L353.9,223.92 L354.53,226.33 L355.16,228.82 L355.79,231.4 L356.42,234.06 L357.05,236.8 L357.68,239.59 L358.31,242.45 L358.94,245.37 L359.56,248.33 L360.19,251.34 L360.82,254.4 L361.45,257.49 L362.08,260.63 L362.71,263.79 L363.34,266.99 L363.97,270.21 M326.85,270.21 L327.45,267.19 L328.06,264.2 L328.66,261.25 L329.27,258.33 L329.87,255.46 L330.48,252.62 L331.08,249.83 L331.69,247.1 L332.29,244.41 L332.9,241.79 L333.5,239.23 L334.11,236.74 L334.71,234.32 L335.32,231.98 L335.92,229.72 L336.53,227.56 L337.13,225.5 L337.74,223.54 L338.34,221.7 L338.95,219.98 L339.55,218.4 L340.16,216.95 L340.76,215.65 L341.37,214.5 L341.97,213.52 L342.58,212.7 L343.18,212.06 L343.79,211.6 L344.39,211.33 L345,211.23 L345.61,211.33 L346.21,211.6 L346.82,212.06 L347.42,212.7 L348.03,213.52 L348.63,214.5 L349.24,215.65 L349.84,216.95 L350.45,218.4 L351.05,219.98 L351.66,221.7 L352.26,223.54 L352.87,225.5 L353.47,227.56 L354.08,229.72 L354.68,231.98 L355.29,234.32 L355.89,236.74 L356.5,239.23 L357.1,241.79 L357.71,244.41 L358.31,247.1 L358.92,249.83 L359.52,252.62 L360.13,255.46 L360.73,258.33 L361.34,261.25 L361.94,264.2 L362.55,267.19 L363.15,270.21 M327.46,270.21 L328.04,267.42 L328.62,264.65 L329.2,261.92 L329.79,259.24 L330.37,256.59 L330.95,253.99 L331.53,251.44 L332.11,248.95 L332.69,246.51 L333.27,244.12 L333.86,241.81 L334.44,239.56 L335.02,237.38 L335.6,235.28 L336.18,233.27 L336.76,231.35 L337.34,229.52 L337.92,227.79 L338.51,226.17 L339.09,224.66 L339.67,223.27 L340.25,222.01 L340.83,220.88 L341.41,219.89 L341.99,219.04 L342.57,218.34 L343.16,217.79 L343.74,217.4 L344.32,217.16 L344.9,217.08 L345.48,217.16 L346.06,217.4 L346.64,217.79 L347.23,218.34 L347.81,219.04 L348.39,219.89 L348.97,220.88 L349.55,222.01 L350.13,223.27 L350.71,224.66 L351.29,226.17 L351.88,227.79 L352.46,229.52 L353.04,231.35 L353.62,233.27 L354.2,235.28 L354.78,237.38 L355.36,239.56 L355.94,241.81 L356.53,244.12 L357.11,246.51 L357.69,248.95 L358.27,251.44 L358.85,253.99 L359.43,256.59 L360.01,259.24 L360.6,261.92 L361.18,264.65 L361.76,267.42 L362.34,270.21 M328.07,270.21 L328.63,267.65 L329.19,265.13 L329.74,262.65 L330.3,260.21 L330.86,257.81 L331.42,255.46 L331.97,253.16 L332.53,250.91 L333.09,248.72 L333.65,246.58 L334.2,244.52 L334.76,242.51 L335.32,240.58 L335.88,238.73 L336.44,236.95 L336.99,235.26 L337.55,233.66 L338.11,232.15 L338.67,230.74 L339.22,229.43 L339.78,228.23 L340.34,227.15 L340.9,226.18 L341.45,225.33 L342.01,224.6 L342.57,224 L343.13,223.53 L343.68,223.2 L344.24,222.99 L344.8,222.93 L345.36,222.99 L345.92,223.2 L346.47,223.53 L347.03,224 L347.59,224.6 L348.15,225.33 L348.7,226.18 L349.26,227.15 L349.82,228.23 L350.38,229.43 L350.93,230.74 L351.49,232.15 L352.05,233.66 L352.61,235.26 L353.16,236.95 L353.72,238.73 L354.28,240.58 L354.84,242.51 L355.4,244.52 L355.95,246.58 L356.51,248.72 L357.07,250.91 L357.63,253.16 L358.18,255.46 L358.74,257.81 L359.3,260.21 L359.86,262.65 L360.41,265.13 L360.97,267.65 L361.53,270.21 M328.68,270.21 L329.21,267.91 L329.75,265.65 L330.28,263.42 L330.81,261.24 L331.35,259.1 L331.88,257.01 L332.42,254.97 L332.95,252.98 L333.48,251.04 L334.02,249.16 L334.55,247.35 L335.09,245.6 L335.62,243.91 L336.15,242.3 L336.69,240.76 L337.22,239.29 L337.76,237.91 L338.29,236.61 L338.83,235.41 L339.36,234.29 L339.89,233.27 L340.43,232.34 L340.96,231.52 L341.5,230.8 L342.03,230.18 L342.56,229.68 L343.1,229.28 L343.63,229 L344.17,228.83 L344.7,228.77 L345.23,228.83 L345.77,229 L346.3,229.28 L346.84,229.68 L347.37,230.18 L347.9,230.8 L348.44,231.52 L348.97,232.34 L349.51,233.27 L350.04,234.29 L350.57,235.41 L351.11,236.61 L351.64,237.91 L352.18,239.29 L352.71,240.76 L353.25,242.3 L353.78,243.91 L354.31,245.6 L354.85,247.35 L355.38,249.16 L355.92,251.04 L356.45,252.98 L356.98,254.97 L357.52,257.01 L358.05,259.1 L358.59,261.24 L359.12,263.42 L359.65,265.65 L360.19,267.91 L360.72,270.21"/>
<path stroke="#c80c16" stroke-width="1.35" d="M110.91,11.29 L111.71,15.37 L112.5,19.45 L113.3,23.52 L114.1,27.58 L114.89,31.63 L115.69,35.67 L116.49,39.7 L117.28,43.71 L118.08,47.7 L118.87,51.67 L119.67,55.63 L120.47,59.55 L121.26,63.45 L122.06,67.32 L122.86,71.14 L123.65,74.92 L124.45,78.65 M111.69,11.29 L112.47,15.28 L113.24,19.26 L114.02,23.24 L114.79,27.2 L115.57,31.14 L116.34,35.07 L117.12,38.98 L117.89,42.87 L118.67,46.74 L119.45,50.58 L120.22,54.39 L121,58.17 L121.77,61.92 L122.55,65.62 L123.32,69.27 L124.1,72.86 L124.87,76.38 M112.47,11.29 L113.23,15.17 L113.98,19.05 L114.74,22.9 L115.49,26.75 L116.24,30.57 L117,34.37 L117.75,38.15 L118.51,41.9 L119.26,45.63 L120.02,49.32 L120.77,52.98 L121.52,56.59 L122.28,60.16 L123.03,63.68 L123.79,67.14 L124.54,70.52 M113.25,11.29 L113.99,15.05 L114.72,18.8 L115.45,22.52 L116.19,26.23 L116.92,29.92 L117.65,33.57 L118.39,37.2 L119.12,40.8 L119.85,44.37 L120.59,47.9 L121.32,51.38 L122.05,54.82 L122.78,58.2 L123.52,61.52 L124.25,64.77 M114.03,11.29 L114.74,14.91 L115.46,18.52 L116.17,22.1 L116.88,25.66 L117.59,29.18 L118.3,32.68 L119.02,36.15 L119.73,39.58 L120.44,42.97 L121.15,46.32 L121.87,49.62 L122.58,52.86 L123.29,56.04 L124,59.15 M114.81,11.29 L115.5,14.76 L116.19,18.2 L116.88,21.63 L117.57,25.02 L118.27,28.38 L118.96,31.7 L119.65,34.99 L120.34,38.24 L121.03,41.44 L121.72,44.6 L122.41,47.69 L123.11,50.73 L123.8,53.7 M115.58,11.29 L116.26,14.59 L116.93,17.86 L117.6,21.11 L118.27,24.32 L118.94,27.5 L119.61,30.64 L120.28,33.73 L120.95,36.78 L121.62,39.79 L122.29,42.73 L122.96,45.62 L123.63,48.45 M116.36,11.29 L117.01,14.4 L117.66,17.49 L118.31,20.54 L118.96,23.56 L119.61,26.54 L120.26,29.48 L120.91,32.37 L121.56,35.22 L122.21,38.01 L122.86,40.74 L123.51,43.41 M117.13,11.29 L117.76,14.2 L118.39,17.09 L119.02,19.94 L119.65,22.75 L120.28,25.52 L120.91,28.24 L121.54,30.92 L122.16,33.54 L122.79,36.11 M117.9,11.29 L118.51,13.99 L119.12,16.66 L119.73,19.29 L120.34,21.88 L120.95,24.42 L121.55,26.92 L122.16,29.37 L122.77,31.77 M118.67,11.29 L119.26,13.76 L119.85,16.2 L120.43,18.59 L121.02,20.95 L121.61,23.26 L122.2,25.52 M110.91,270.21 L111.71,266.13 L112.5,262.05 L113.3,257.98 L114.1,253.92 L114.89,249.87 L115.69,245.83 L116.49,241.8 L117.28,237.79 L118.08,233.8 L118.87,229.83 L119.67,225.87 L120.47,221.95 L121.26,218.05 L122.06,214.18 L122.86,210.36 L123.65,206.58 L124.45,202.85 M111.69,270.21 L112.47,266.23 L113.24,262.25 L114.02,258.28 L114.79,254.33 L115.57,250.4 L116.34,246.48 L117.12,242.57 L117.89,238.69 L118.67,234.84 L119.45,231 L120.22,227.2 L121,223.43 L121.77,219.7 L122.55,216.01 L123.32,212.38 L124.1,208.8 L124.87,205.29 M112.47,270.21 L113.23,266.34 L113.98,262.49 L114.74,258.65 L115.49,254.82 L116.24,251.02 L117,247.24 L117.75,243.48 L118.51,239.75 L119.26,236.04 L120.01,232.37 L120.77,228.74 L121.52,225.15 L122.28,221.6 L123.03,218.11 L123.79,214.68 L124.54,211.33 M113.25,270.21 L113.98,266.48 L114.72,262.76 L115.45,259.06 L116.18,255.39 L116.92,251.73 L117.65,248.11 L118.38,244.51 L119.12,240.94 L119.85,237.41 L120.58,233.92 L121.32,230.48 L122.05,227.08 L122.78,223.74 L123.52,220.47 L124.25,217.26 M114.03,270.21 L114.74,266.63 L115.45,263.07 L116.17,259.53 L116.88,256.02 L117.59,252.54 L118.3,249.08 L119.02,245.66 L119.73,242.28 L120.44,238.95 L121.15,235.65 L121.86,232.41 L122.58,229.22 L123.29,226.1 L124,223.05 M114.81,270.21 L115.5,266.8 L116.19,263.41 L116.88,260.05 L117.57,256.72 L118.26,253.42 L118.95,250.16 L119.65,246.94 L120.34,243.76 L121.03,240.63 L121.72,237.55 L122.41,234.52 L123.1,231.56 L123.79,228.66 M115.58,270.21 L116.25,266.99 L116.92,263.79 L117.59,260.63 L118.26,257.49 L118.93,254.4 L119.6,251.34 L120.27,248.33 L120.95,245.37 L121.62,242.45 L122.29,239.59 L122.96,236.8 M116.35,270.21 L117,267.19 L117.65,264.2 L118.3,261.25 L118.95,258.33 L119.6,255.46 L120.25,252.62 L120.9,249.83 L121.55,247.1 L122.2,244.41 L122.85,241.79 M117.12,270.21 L117.75,267.42 L118.38,264.65 L119.01,261.92 L119.64,259.24 L120.27,256.59 L120.9,253.99 L121.53,251.44 L122.16,248.95 L122.79,246.51 M117.89,270.21 L118.5,267.65 L119.11,265.13 L119.72,262.65 L120.33,260.21 L120.93,257.81 L121.54,255.46 L122.15,253.16 M118.65,270.21 L119.24,267.91 L119.83,265.65 L120.42,263.42 L121.01,261.24 L121.6,259.1 M322.52,11.29 L323.29,15.37 L324.06,19.45 L324.84,23.52 L325.61,27.58 L326.38,31.63 L327.15,35.67 L327.93,39.7 L328.7,43.71 L329.47,47.7 L330.25,51.67 L331.02,55.63 L331.79,59.55 L332.56,63.45 L333.34,67.32 L334.11,71.14 L334.88,74.92 L335.65,78.65 M323.14,11.29 L323.89,15.28 L324.64,19.26 L325.39,23.24 L326.13,27.2 L326.88,31.14 L327.63,35.07 L328.38,38.98 L329.13,42.87 L329.88,46.74 L330.63,50.58 L331.38,54.39 L332.12,58.17 L332.87,61.92 L333.62,65.62 L334.37,69.27 L335.12,72.86 L335.87,76.38 M323.76,11.29 L324.49,15.17 L325.21,19.05 L325.93,22.9 L326.66,26.75 L327.38,30.57 L328.11,34.37 L328.83,38.15 L329.56,41.9 L330.28,45.63 L331.01,49.32 L331.73,52.98 L332.46,56.59 L333.18,60.16 L333.91,63.68 L334.63,67.14 L335.35,70.52 M324.38,11.29 L325.08,15.05 L325.78,18.8 L326.48,22.52 L327.18,26.23 L327.88,29.92 L328.58,33.57 L329.29,37.2 L329.99,40.8 L330.69,44.37 L331.39,47.9 L332.09,51.38 L332.79,54.82 L333.49,58.2 L334.19,61.52 L334.89,64.77 M325,11.29 L325.68,14.91 L326.35,18.52 L327.03,22.1 L327.71,25.66 L328.38,29.18 L329.06,32.68 L329.74,36.15 L330.41,39.58 L331.09,42.97 L331.77,46.32 L332.44,49.62 L333.12,52.86 L333.8,56.04 L334.47,59.15 M325.62,11.29 L326.27,14.76 L326.92,18.2 L327.58,21.63 L328.23,25.02 L328.88,28.38 L329.54,31.7 L330.19,34.99 L330.84,38.24 L331.49,41.44 L332.15,44.6 L332.8,47.69 L333.45,50.73 L334.1,53.7 M326.24,11.29 L326.87,14.59 L327.49,17.86 L328.12,21.11 L328.75,24.32 L329.38,27.5 L330.01,30.64 L330.64,33.73 L331.27,36.78 L331.9,39.79 L332.52,42.73 L333.15,45.62 L333.78,48.45 M326.85,11.29 L327.46,14.4 L328.06,17.49 L328.67,20.54 L329.27,23.56 L329.88,26.54 L330.48,29.48 L331.09,32.37 L331.69,35.22 L332.3,38.01 L332.9,40.74 L333.51,43.41 M327.47,11.29 L328.05,14.2 L328.63,17.09 L329.21,19.94 L329.79,22.75 L330.37,25.52 L330.96,28.24 L331.54,30.92 L332.12,33.54 L332.7,36.11 M328.08,11.29 L328.64,13.99 L329.2,16.66 L329.75,19.29 L330.31,21.88 L330.87,24.42 L331.43,26.92 L331.98,29.37 L332.54,31.77 M328.69,11.29 L329.23,13.76 L329.76,16.2 L330.29,18.59 L330.83,20.95 L331.36,23.26 L331.89,25.52 M322.52,270.21 L323.29,266.13 L324.06,262.05 L324.84,257.98 L325.61,253.92 L326.38,249.87 L327.15,245.83 L327.93,241.8 L328.7,237.79 L329.47,233.8 L330.25,229.83 L331.02,225.87 L331.79,221.95 L332.56,218.05 L333.34,214.18 L334.11,210.36 L334.88,206.58 L335.65,202.85 M323.14,270.21 L323.89,266.23 L324.64,262.25 L325.39,258.28 L326.13,254.33 L326.88,250.4 L327.63,246.48 L328.38,242.57 L329.13,238.69 L329.88,234.84 L330.63,231 L331.37,227.2 L332.12,223.43 L332.87,219.7 L333.62,216.01 L334.37,212.38 L335.12,208.8 L335.87,205.29 M323.76,270.21 L324.48,266.34 L325.21,262.49 L325.93,258.65 L326.66,254.82 L327.38,251.02 L328.11,247.24 L328.83,243.48 L329.56,239.75 L330.28,236.04 L331.01,232.37 L331.73,228.74 L332.46,225.15 L333.18,221.6 L333.91,218.11 L334.63,214.68 L335.35,211.33 M324.38,270.21 L325.08,266.48 L325.78,262.76 L326.48,259.06 L327.18,255.39 L327.88,251.73 L328.58,248.11 L329.28,244.51 L329.99,240.94 L330.69,237.41 L331.39,233.92 L332.09,230.48 L332.79,227.08 L333.49,223.74 L334.19,220.47 L334.89,217.26 M325,270.21 L325.68,266.63 L326.35,263.07 L327.03,259.53 L327.71,256.02 L328.38,252.54 L329.06,249.08 L329.74,245.66 L330.41,242.28 L331.09,238.95 L331.77,235.65 L332.44,232.41 L333.12,229.22 L333.8,226.1 L334.47,223.05 M325.62,270.21 L326.27,266.8 L326.92,263.41 L327.57,260.05 L328.23,256.72 L328.88,253.42 L329.53,250.16 L330.19,246.94 L330.84,243.76 L331.49,240.63 L332.14,237.55 L332.8,234.52 L333.45,231.56 L334.1,228.66 M326.23,270.21 L326.86,266.99 L327.49,263.79 L328.12,260.63 L328.75,257.49 L329.38,254.4 L330.01,251.34 L330.64,248.33 L331.26,245.37 L331.89,242.45 L332.52,239.59 L333.15,236.8 M326.85,270.21 L327.45,267.19 L328.06,264.2 L328.66,261.25 L329.27,258.33 L329.87,255.46 L330.48,252.62 L331.08,249.83 L331.69,247.1 L332.29,244.41 L332.9,241.79 M327.46,270.21 L328.04,267.42 L328.62,264.65 L329.2,261.92 L329.79,259.24 L330.37,256.59 L330.95,253.99 L331.53,251.44 L332.11,248.95 L332.69,246.51 M328.07,270.21 L328.63,267.65 L329.19,265.13 L329.74,262.65 L330.3,260.21 L330.86,257.81 L331.42,255.46 L331.97,253.16 M328.68,270.21 L329.21,267.91 L329.75,265.65 L330.28,263.42 L330.81,261.24 L331.35,259.1"/>
<path stroke="#c80c16" stroke-width="0.9" stroke-dasharray="0 9.5 6.4 0.9 6.9 0" stroke-dashoffset="16.8" d="M138.5,53.2 L140.3,51.3 L142.5,49.9 L145,49.6 L148,50.4 L150.6,51.43 L153.6,51.89 L156.6,52.39 L159.6,52.92 L162.6,53.49 L165.6,54.1 L168.6,54.74 L171.6,55.41 L174.6,56.12 L177.6,56.85 L180.6,57.61 L183.6,58.4 L186.6,59.22 L189.6,60.06 L192.6,60.92 L195.6,61.81 L198.6,62.71 L201.6,63.64 L204.6,64.58 L207.6,65.53 L210.6,66.5 L213.6,67.49 L216.6,68.48 L219.6,69.49 L222.6,70.51 L225.6,71.53 L228.6,72.56 L231.6,73.6 L234.6,74.63 L237.6,75.67 L240.6,76.71 L243.6,77.75 L246.6,78.79 L249.6,79.83 L252.6,80.86 L255.6,81.88 L258.6,82.9 L261.6,83.9 L264.6,84.9 L267.6,85.88 L270.6,86.86 L273.6,87.81 L276.6,88.75 L279.6,89.68 L282.6,90.58 L285.6,91.47 L288.6,92.33 L291.6,93.17 L294.6,93.99 L297.6,94.78 L300.6,95.54 L303.6,96.28 L306.6,96.98 L309.6,97.66 L312.6,98.3 L315.6,98.9 L318.6,99.48 L321.6,100.01 L324.6,100.51 L327.6,100.97 L330.6,101.38 L333.6,101.76 L336.6,102.09 L339.1,102.33 L339.14,104 L339.83,108 L340.53,112 L341.22,116 L341.91,120 L342.6,124 L343.29,128 L343.99,132 L344.68,136 L345.37,140 L346.06,144 L346.75,148 L347.45,152 L348.14,156 L348.83,160 L349.52,164 L350.21,168 L350.91,172 L351.6,176 L352.29,180 L352.98,184 L353.67,188 L354.37,192 L355.06,196 L355.75,200 L356.44,204 L357.13,208 L357.83,212 L358.52,216 L359.21,220 L359.9,224 L360.59,228 L361.29,232 L361.98,236 L362.67,240 L363.36,244 L364.05,248 L364.75,252 L365.44,256 L366.13,260 L366.82,264 L367.51,268 M112.23,269.5 L112.92,265.5 L113.61,261.5 L114.3,257.5 L114.99,253.5 L115.69,249.5 L116.38,245.5 L117.07,241.5 L117.76,237.5 L118.45,233.5 L119.15,229.5 L119.84,225.5 L120.53,221.5 L121.22,217.5 L121.91,213.5 L122.61,209.5 L123.3,205.5 L123.99,201.5 L124.68,197.5 L125.37,193.5 L126.07,189.5 L126.76,185.5 L127.45,181.5 L128.14,177.5 L128.83,173.5 L129.53,169.5 L130.22,165.5 L130.91,161.5 L131.6,157.5 L132.29,153.5 L132.99,149.5 L133.68,145.5 L134.37,141.5 L135.06,137.5 L135.75,133.5 L136.45,129.5 L137.14,125.5 L137.83,121.5 L138.52,117.5 L139.21,113.5 L139.91,109.5 L140.6,105.5 L141.17,101.98 L144.17,101.72 L147.17,101.41 L150.17,101.05 L153.17,100.65 L156.17,100.2 L159.17,99.7 L162.17,99.17 L165.17,98.59 L168.17,97.98 L171.17,97.32 L174.17,96.64 L177.17,95.91 L180.17,95.16 L183.17,94.37 L186.17,93.55 L189.17,92.71 L192.17,91.84 L195.17,90.95 L198.17,90.03 L201.17,89.09 L204.17,88.13 L207.17,87.15 L210.17,86.16 L213.17,85.15 L216.17,84.12 L219.17,83.09 L222.17,82.04 L225.17,80.99 L228.17,79.92 L231.17,78.86 L234.17,77.78 L237.17,76.71 L240.17,75.63 L243.17,74.56 L246.17,73.49 L249.17,72.42 L252.17,71.35 L255.17,70.3 L258.17,69.25 L261.17,68.21 L264.17,67.19 L267.17,66.18 L270.17,65.18 L273.17,64.2 L276.17,63.24 L279.17,62.29 L282.17,61.37 L285.17,60.47 L288.17,59.6 L291.17,58.75 L294.17,57.93 L297.17,57.14 L300.17,56.38 L303.17,55.65 L306.17,54.96 L309.17,54.3 L312.17,53.68 L315.17,53.09 L318.17,52.55 L321.17,52.05 L324.17,51.6 L327.17,51.18 L332.5,50.3 L335.5,49.6 L337.8,49.9 L340,51.3 L341.5,53"/>
<g stroke="#2a2aa4" stroke-dasharray="9.5 6.4 0.9 6.9" stroke-dashoffset="16.8" stroke-width="1.1">
<path d="M110.91,11.29 L111.71,15.37 L112.5,19.45 L113.3,23.52 L114.1,27.58 L114.89,31.63 L115.69,35.67 L116.49,39.7 L117.28,43.71 L118.08,47.7 L118.87,51.67 L119.67,55.63 L120.47,59.55 L121.26,63.45 L122.06,67.32 L122.86,71.14 L123.65,74.92 L124.45,78.65 L125.24,82.31 L126.04,85.89 L126.84,89.38 L127.63,92.76 L128.43,95.99 L129.23,99.05 L130.02,101.9 L130.82,104.49 L131.61,106.75 L132.41,108.62 L133.21,110.02 L134,110.9 L134.8,111.19 L135.6,110.9 L136.39,110.02 L137.19,108.62 L137.99,106.75 L138.78,104.49 L139.58,101.9 L140.37,99.05 L141.17,95.99 L141.97,92.76 L142.76,89.38 L143.56,85.89 L144.36,82.31 L145.15,78.65 L145.95,74.92 L146.74,71.14 L147.54,67.32 L148.34,63.45 L149.13,59.55 L149.93,55.63 L150.73,51.67 L151.52,47.7 L152.32,43.71 L153.11,39.7 L153.91,35.67 L154.71,31.63 L155.5,27.58 L156.3,23.52 L157.1,19.45 L157.89,15.37 L158.69,11.29"/>
<path d="M111.69,11.29 L112.47,15.28 L113.24,19.26 L114.02,23.24 L114.79,27.2 L115.57,31.14 L116.34,35.07 L117.12,38.98 L117.89,42.87 L118.67,46.74 L119.45,50.58 L120.22,54.39 L121,58.17 L121.77,61.92 L122.55,65.62 L123.32,69.27 L124.1,72.86 L124.87,76.38 L125.65,79.83 L126.42,83.18 L127.2,86.42 L127.97,89.52 L128.75,92.47 L129.52,95.23 L130.3,97.77 L131.07,100.04 L131.85,101.99 L132.62,103.58 L133.4,104.76 L134.17,105.49 L134.95,105.73 L135.73,105.49 L136.5,104.76 L137.28,103.58 L138.05,101.99 L138.83,100.04 L139.6,97.77 L140.38,95.23 L141.15,92.47 L141.93,89.52 L142.7,86.42 L143.48,83.18 L144.25,79.83 L145.03,76.38 L145.8,72.86 L146.58,69.27 L147.35,65.62 L148.13,61.92 L148.9,58.17 L149.68,54.39 L150.45,50.58 L151.23,46.74 L152.01,42.87 L152.78,38.98 L153.56,35.07 L154.33,31.14 L155.11,27.2 L155.88,23.24 L156.66,19.26 L157.43,15.28 L158.21,11.29"/>
<path d="M112.47,11.29 L113.23,15.17 L113.98,19.05 L114.74,22.9 L115.49,26.75 L116.24,30.57 L117,34.37 L117.75,38.15 L118.51,41.9 L119.26,45.63 L120.02,49.32 L120.77,52.98 L121.52,56.59 L122.28,60.16 L123.03,63.68 L123.79,67.14 L124.54,70.52 L125.3,73.83 L126.05,77.05 L126.8,80.16 L127.56,83.14 L128.31,85.98 L129.07,88.66 L129.82,91.13 L130.57,93.39 L131.33,95.38 L132.08,97.08 L132.84,98.45 L133.59,99.45 L134.35,100.07 L135.1,100.27 L135.85,100.07 L136.61,99.45 L137.36,98.45 L138.12,97.08 L138.87,95.38 L139.63,93.39 L140.38,91.13 L141.13,88.66 L141.89,85.98 L142.64,83.14 L143.4,80.16 L144.15,77.05 L144.9,73.83 L145.66,70.52 L146.41,67.14 L147.17,63.68 L147.92,60.16 L148.68,56.59 L149.43,52.98 L150.18,49.32 L150.94,45.63 L151.69,41.9 L152.45,38.15 L153.2,34.37 L153.96,30.57 L154.71,26.75 L155.46,22.9 L156.22,19.05 L156.97,15.17 L157.73,11.29"/>
<path d="M113.25,11.29 L113.99,15.05 L114.72,18.8 L115.45,22.52 L116.19,26.23 L116.92,29.92 L117.65,33.57 L118.39,37.2 L119.12,40.8 L119.85,44.37 L120.59,47.9 L121.32,51.38 L122.05,54.82 L122.78,58.2 L123.52,61.52 L124.25,64.77 L124.98,67.94 L125.72,71.03 L126.45,74.01 L127.18,76.87 L127.92,79.61 L128.65,82.19 L129.38,84.61 L130.12,86.82 L130.85,88.82 L131.58,90.58 L132.32,92.06 L133.05,93.24 L133.78,94.11 L134.52,94.63 L135.25,94.81 L135.98,94.63 L136.72,94.11 L137.45,93.24 L138.18,92.06 L138.92,90.58 L139.65,88.82 L140.38,86.82 L141.12,84.61 L141.85,82.19 L142.58,79.61 L143.32,76.87 L144.05,74.01 L144.78,71.03 L145.52,67.94 L146.25,64.77 L146.98,61.52 L147.72,58.2 L148.45,54.82 L149.18,51.38 L149.91,47.9 L150.65,44.37 L151.38,40.8 L152.11,37.2 L152.85,33.57 L153.58,29.92 L154.31,26.23 L155.05,22.52 L155.78,18.8 L156.51,15.05 L157.25,11.29"/>
<path d="M114.03,11.29 L114.74,14.91 L115.46,18.52 L116.17,22.1 L116.88,25.66 L117.59,29.18 L118.3,32.68 L119.02,36.15 L119.73,39.58 L120.44,42.97 L121.15,46.32 L121.87,49.62 L122.58,52.86 L123.29,56.04 L124,59.15 L124.72,62.19 L125.43,65.14 L126.14,68 L126.85,70.74 L127.56,73.37 L128.28,75.86 L128.99,78.2 L129.7,80.37 L130.41,82.35 L131.13,84.12 L131.84,85.67 L132.55,86.96 L133.26,87.99 L133.98,88.74 L134.69,89.2 L135.4,89.35 L136.11,89.2 L136.82,88.74 L137.54,87.99 L138.25,86.96 L138.96,85.67 L139.67,84.12 L140.39,82.35 L141.1,80.37 L141.81,78.2 L142.52,75.86 L143.24,73.37 L143.95,70.74 L144.66,68 L145.37,65.14 L146.08,62.19 L146.8,59.15 L147.51,56.04 L148.22,52.86 L148.93,49.62 L149.65,46.32 L150.36,42.97 L151.07,39.58 L151.78,36.15 L152.5,32.68 L153.21,29.18 L153.92,25.66 L154.63,22.1 L155.34,18.52 L156.06,14.91 L156.77,11.29"/>
<path d="M114.81,11.29 L115.5,14.76 L116.19,18.2 L116.88,21.63 L117.57,25.02 L118.27,28.38 L118.96,31.7 L119.65,34.99 L120.34,38.24 L121.03,41.44 L121.72,44.6 L122.41,47.69 L123.11,50.73 L123.8,53.7 L124.49,56.6 L125.18,59.42 L125.87,62.14 L126.56,64.77 L127.25,67.28 L127.94,69.67 L128.64,71.93 L129.33,74.04 L130.02,75.98 L130.71,77.74 L131.4,79.31 L132.09,80.68 L132.78,81.81 L133.48,82.71 L134.17,83.36 L134.86,83.76 L135.55,83.89 L136.24,83.76 L136.93,83.36 L137.62,82.71 L138.32,81.81 L139.01,80.68 L139.7,79.31 L140.39,77.74 L141.08,75.98 L141.77,74.04 L142.46,71.93 L143.16,69.67 L143.85,67.28 L144.54,64.77 L145.23,62.14 L145.92,59.42 L146.61,56.6 L147.3,53.7 L147.99,50.73 L148.69,47.69 L149.38,44.6 L150.07,41.44 L150.76,38.24 L151.45,34.99 L152.14,31.7 L152.83,28.38 L153.53,25.02 L154.22,21.63 L154.91,18.2 L155.6,14.76 L156.29,11.29"/>
<path d="M115.58,11.29 L116.26,14.59 L116.93,17.86 L117.6,21.11 L118.27,24.32 L118.94,27.5 L119.61,30.64 L120.28,33.73 L120.95,36.78 L121.62,39.79 L122.29,42.73 L122.96,45.62 L123.63,48.45 L124.3,51.2 L124.97,53.88 L125.64,56.47 L126.31,58.97 L126.98,61.36 L127.65,63.65 L128.32,65.81 L128.99,67.85 L129.67,69.74 L130.34,71.47 L131.01,73.04 L131.68,74.42 L132.35,75.62 L133.02,76.62 L133.69,77.4 L134.36,77.97 L135.03,78.31 L135.7,78.43 L136.37,78.31 L137.04,77.97 L137.71,77.4 L138.38,76.62 L139.05,75.62 L139.72,74.42 L140.39,73.04 L141.06,71.47 L141.73,69.74 L142.41,67.85 L143.08,65.81 L143.75,63.65 L144.42,61.36 L145.09,58.97 L145.76,56.47 L146.43,53.88 L147.1,51.2 L147.77,48.45 L148.44,45.62 L149.11,42.73 L149.78,39.79 L150.45,36.78 L151.12,33.73 L151.79,30.64 L152.46,27.5 L153.13,24.32 L153.8,21.11 L154.47,17.86 L155.14,14.59 L155.82,11.29"/>
<path d="M116.36,11.29 L117.01,14.4 L117.66,17.49 L118.31,20.54 L118.96,23.56 L119.61,26.54 L120.26,29.48 L120.91,32.37 L121.56,35.22 L122.21,38.01 L122.86,40.74 L123.51,43.41 L124.16,46.02 L124.81,48.55 L125.46,51 L126.1,53.36 L126.75,55.64 L127.4,57.81 L128.05,59.87 L128.7,61.82 L129.35,63.64 L130,65.32 L130.65,66.86 L131.3,68.24 L131.95,69.47 L132.6,70.52 L133.25,71.39 L133.9,72.07 L134.55,72.57 L135.2,72.87 L135.85,72.97 L136.5,72.87 L137.15,72.57 L137.8,72.07 L138.45,71.39 L139.1,70.52 L139.75,69.47 L140.4,68.24 L141.05,66.86 L141.7,65.32 L142.35,63.64 L143,61.82 L143.65,59.87 L144.3,57.81 L144.95,55.64 L145.6,53.36 L146.24,51 L146.89,48.55 L147.54,46.02 L148.19,43.41 L148.84,40.74 L149.49,38.01 L150.14,35.22 L150.79,32.37 L151.44,29.48 L152.09,26.54 L152.74,23.56 L153.39,20.54 L154.04,17.49 L154.69,14.4 L155.34,11.29"/>
<path d="M117.13,11.29 L117.76,14.2 L118.39,17.09 L119.02,19.94 L119.65,22.75 L120.28,25.52 L120.91,28.24 L121.54,30.92 L122.16,33.54 L122.79,36.11 L123.42,38.62 L124.05,41.07 L124.68,43.45 L125.31,45.75 L125.94,47.98 L126.57,50.12 L127.2,52.17 L127.82,54.12 L128.45,55.97 L129.08,57.7 L129.71,59.32 L130.34,60.81 L130.97,62.17 L131.6,63.39 L132.23,64.46 L132.86,65.38 L133.48,66.13 L134.11,66.73 L134.74,67.16 L135.37,67.42 L136,67.5 L136.63,67.42 L137.26,67.16 L137.89,66.73 L138.52,66.13 L139.14,65.38 L139.77,64.46 L140.4,63.39 L141.03,62.17 L141.66,60.81 L142.29,59.32 L142.92,57.7 L143.55,55.97 L144.18,54.12 L144.8,52.17 L145.43,50.12 L146.06,47.98 L146.69,45.75 L147.32,43.45 L147.95,41.07 L148.58,38.62 L149.21,36.11 L149.84,33.54 L150.46,30.92 L151.09,28.24 L151.72,25.52 L152.35,22.75 L152.98,19.94 L153.61,17.09 L154.24,14.2 L154.87,11.29"/>
<path d="M117.9,11.29 L118.51,13.99 L119.12,16.66 L119.73,19.29 L120.34,21.88 L120.95,24.42 L121.55,26.92 L122.16,29.37 L122.77,31.77 L123.38,34.11 L123.99,36.39 L124.59,38.61 L125.2,40.76 L125.81,42.83 L126.42,44.83 L127.03,46.75 L127.64,48.58 L128.24,50.31 L128.85,51.95 L129.46,53.48 L130.07,54.91 L130.68,56.22 L131.28,57.41 L131.89,58.47 L132.5,59.4 L133.11,60.2 L133.72,60.86 L134.33,61.38 L134.93,61.75 L135.54,61.97 L136.15,62.04 L136.76,61.97 L137.37,61.75 L137.97,61.38 L138.58,60.86 L139.19,60.2 L139.8,59.4 L140.41,58.47 L141.02,57.41 L141.62,56.22 L142.23,54.91 L142.84,53.48 L143.45,51.95 L144.06,50.31 L144.66,48.58 L145.27,46.75 L145.88,44.83 L146.49,42.83 L147.1,40.76 L147.71,38.61 L148.31,36.39 L148.92,34.11 L149.53,31.77 L150.14,29.37 L150.75,26.92 L151.35,24.42 L151.96,21.88 L152.57,19.29 L153.18,16.66 L153.79,13.99 L154.4,11.29"/>
<path d="M118.67,11.29 L119.26,13.76 L119.85,16.2 L120.43,18.59 L121.02,20.95 L121.61,23.26 L122.2,25.52 L122.79,27.74 L123.37,29.9 L123.96,32 L124.55,34.05 L125.14,36.03 L125.72,37.95 L126.31,39.8 L126.9,41.57 L127.49,43.26 L128.07,44.88 L128.66,46.4 L129.25,47.84 L129.84,49.18 L130.42,50.42 L131.01,51.56 L131.6,52.59 L132.19,53.51 L132.77,54.31 L133.36,55 L133.95,55.57 L134.54,56.01 L135.12,56.33 L135.71,56.52 L136.3,56.58 L136.89,56.52 L137.48,56.33 L138.06,56.01 L138.65,55.57 L139.24,55 L139.83,54.31 L140.41,53.51 L141,52.59 L141.59,51.56 L142.18,50.42 L142.76,49.18 L143.35,47.84 L143.94,46.4 L144.53,44.88 L145.11,43.26 L145.7,41.57 L146.29,39.8 L146.88,37.95 L147.46,36.03 L148.05,34.05 L148.64,32 L149.23,29.9 L149.81,27.74 L150.4,25.52 L150.99,23.26 L151.58,20.95 L152.17,18.59 L152.75,16.2 L153.34,13.76 L153.93,11.29"/>
<path d="M110.91,270.21 L111.71,266.13 L112.5,262.05 L113.3,257.98 L114.1,253.92 L114.89,249.87 L115.69,245.83 L116.49,241.8 L117.28,237.79 L118.08,233.8 L118.87,229.83 L119.67,225.87 L120.47,221.95 L121.26,218.05 L122.06,214.18 L122.86,210.36 L123.65,206.58 L124.45,202.85 L125.24,199.19 L126.04,195.61 L126.84,192.12 L127.63,188.74 L128.43,185.51 L129.23,182.45 L130.02,179.6 L130.82,177.01 L131.61,174.75 L132.41,172.88 L133.21,171.48 L134,170.6 L134.8,170.31 L135.6,170.6 L136.39,171.48 L137.19,172.88 L137.99,174.75 L138.78,177.01 L139.58,179.6 L140.37,182.45 L141.17,185.51 L141.97,188.74 L142.76,192.12 L143.56,195.61 L144.36,199.19 L145.15,202.85 L145.95,206.58 L146.74,210.36 L147.54,214.18 L148.34,218.05 L149.13,221.95 L149.93,225.87 L150.73,229.83 L151.52,233.8 L152.32,237.79 L153.11,241.8 L153.91,245.83 L154.71,249.87 L155.5,253.92 L156.3,257.98 L157.1,262.05 L157.89,266.13 L158.69,270.21"/>
<path d="M111.69,270.21 L112.47,266.23 L113.24,262.25 L114.02,258.28 L114.79,254.33 L115.57,250.4 L116.34,246.48 L117.12,242.57 L117.89,238.69 L118.67,234.84 L119.45,231 L120.22,227.2 L121,223.43 L121.77,219.7 L122.55,216.01 L123.32,212.38 L124.1,208.8 L124.87,205.29 L125.65,201.86 L126.42,198.53 L127.2,195.31 L127.97,192.22 L128.75,189.29 L129.52,186.55 L130.3,184.03 L131.07,181.79 L131.85,179.85 L132.62,178.28 L133.4,177.11 L134.17,176.39 L134.95,176.15 L135.73,176.39 L136.5,177.11 L137.28,178.28 L138.05,179.85 L138.83,181.79 L139.6,184.03 L140.38,186.55 L141.15,189.29 L141.93,192.22 L142.7,195.31 L143.48,198.53 L144.25,201.86 L145.03,205.29 L145.8,208.8 L146.58,212.38 L147.35,216.01 L148.13,219.7 L148.9,223.43 L149.68,227.2 L150.45,231 L151.23,234.84 L152.01,238.69 L152.78,242.57 L153.56,246.48 L154.33,250.4 L155.11,254.33 L155.88,258.28 L156.66,262.25 L157.43,266.23 L158.21,270.21"/>
<path d="M112.47,270.21 L113.23,266.34 L113.98,262.49 L114.74,258.65 L115.49,254.82 L116.24,251.02 L117,247.24 L117.75,243.48 L118.51,239.75 L119.26,236.04 L120.01,232.37 L120.77,228.74 L121.52,225.15 L122.28,221.6 L123.03,218.11 L123.79,214.68 L124.54,211.33 L125.29,208.05 L126.05,204.87 L126.8,201.79 L127.56,198.84 L128.31,196.04 L129.07,193.4 L129.82,190.96 L130.57,188.75 L131.33,186.79 L132.08,185.13 L132.84,183.79 L133.59,182.8 L134.35,182.2 L135.1,182 L135.85,182.2 L136.61,182.8 L137.36,183.79 L138.12,185.13 L138.87,186.79 L139.63,188.75 L140.38,190.96 L141.13,193.4 L141.89,196.04 L142.64,198.84 L143.4,201.79 L144.15,204.87 L144.91,208.05 L145.66,211.33 L146.41,214.68 L147.17,218.11 L147.92,221.6 L148.68,225.15 L149.43,228.74 L150.19,232.37 L150.94,236.04 L151.69,239.75 L152.45,243.48 L153.2,247.24 L153.96,251.02 L154.71,254.82 L155.46,258.65 L156.22,262.49 L156.97,266.34 L157.73,270.21"/>
<path d="M113.25,270.21 L113.98,266.48 L114.72,262.76 L115.45,259.06 L116.18,255.39 L116.92,251.73 L117.65,248.11 L118.38,244.51 L119.12,240.94 L119.85,237.41 L120.58,233.92 L121.32,230.48 L122.05,227.08 L122.78,223.74 L123.52,220.47 L124.25,217.26 L124.98,214.13 L125.72,211.1 L126.45,208.17 L127.18,205.35 L127.92,202.67 L128.65,200.14 L129.38,197.78 L130.12,195.61 L130.85,193.66 L131.58,191.95 L132.32,190.51 L133.05,189.36 L133.78,188.53 L134.52,188.02 L135.25,187.85 L135.98,188.02 L136.72,188.53 L137.45,189.36 L138.18,190.51 L138.92,191.95 L139.65,193.66 L140.38,195.61 L141.12,197.78 L141.85,200.14 L142.58,202.67 L143.32,205.35 L144.05,208.17 L144.78,211.1 L145.52,214.13 L146.25,217.26 L146.98,220.47 L147.72,223.74 L148.45,227.08 L149.18,230.48 L149.92,233.92 L150.65,237.41 L151.38,240.94 L152.12,244.51 L152.85,248.11 L153.58,251.73 L154.32,255.39 L155.05,259.06 L155.78,262.76 L156.52,266.48 L157.25,270.21"/>
<path d="M114.03,270.21 L114.74,266.63 L115.45,263.07 L116.17,259.53 L116.88,256.02 L117.59,252.54 L118.3,249.08 L119.02,245.66 L119.73,242.28 L120.44,238.95 L121.15,235.65 L121.86,232.41 L122.58,229.22 L123.29,226.1 L124,223.05 L124.71,220.07 L125.43,217.19 L126.14,214.4 L126.85,211.72 L127.56,209.16 L128.28,206.73 L128.99,204.46 L129.7,202.36 L130.41,200.44 L131.13,198.73 L131.84,197.24 L132.55,195.99 L133.26,194.99 L133.98,194.27 L134.69,193.84 L135.4,193.69 L136.11,193.84 L136.82,194.27 L137.54,194.99 L138.25,195.99 L138.96,197.24 L139.67,198.73 L140.39,200.44 L141.1,202.36 L141.81,204.46 L142.52,206.73 L143.24,209.16 L143.95,211.72 L144.66,214.4 L145.37,217.19 L146.09,220.07 L146.8,223.05 L147.51,226.1 L148.22,229.22 L148.94,232.41 L149.65,235.65 L150.36,238.95 L151.07,242.28 L151.78,245.66 L152.5,249.08 L153.21,252.54 L153.92,256.02 L154.63,259.53 L155.35,263.07 L156.06,266.63 L156.77,270.21"/>
<path d="M114.81,270.21 L115.5,266.8 L116.19,263.41 L116.88,260.05 L117.57,256.72 L118.26,253.42 L118.95,250.16 L119.65,246.94 L120.34,243.76 L121.03,240.63 L121.72,237.55 L122.41,234.52 L123.1,231.56 L123.79,228.66 L124.49,225.84 L125.18,223.1 L125.87,220.46 L126.56,217.92 L127.25,215.48 L127.94,213.17 L128.64,211 L129.33,208.97 L130.02,207.1 L130.71,205.41 L131.4,203.9 L132.09,202.6 L132.78,201.52 L133.48,200.66 L134.17,200.04 L134.86,199.66 L135.55,199.54 L136.24,199.66 L136.93,200.04 L137.62,200.66 L138.32,201.52 L139.01,202.6 L139.7,203.9 L140.39,205.41 L141.08,207.1 L141.77,208.97 L142.46,211 L143.16,213.17 L143.85,215.48 L144.54,217.92 L145.23,220.46 L145.92,223.1 L146.61,225.84 L147.31,228.66 L148,231.56 L148.69,234.52 L149.38,237.55 L150.07,240.63 L150.76,243.76 L151.45,246.94 L152.15,250.16 L152.84,253.42 L153.53,256.72 L154.22,260.05 L154.91,263.41 L155.6,266.8 L156.29,270.21"/>
<path d="M115.58,270.21 L116.25,266.99 L116.92,263.79 L117.59,260.63 L118.26,257.49 L118.93,254.4 L119.6,251.34 L120.27,248.33 L120.95,245.37 L121.62,242.45 L122.29,239.59 L122.96,236.8 L123.63,234.06 L124.3,231.4 L124.97,228.82 L125.64,226.33 L126.31,223.92 L126.98,221.62 L127.65,219.43 L128.32,217.36 L128.99,215.42 L129.66,213.62 L130.33,211.97 L131.01,210.48 L131.68,209.17 L132.35,208.04 L133.02,207.09 L133.69,206.35 L134.36,205.82 L135.03,205.49 L135.7,205.39 L136.37,205.49 L137.04,205.82 L137.71,206.35 L138.38,207.09 L139.05,208.04 L139.72,209.17 L140.39,210.48 L141.07,211.97 L141.74,213.62 L142.41,215.42 L143.08,217.36 L143.75,219.43 L144.42,221.62 L145.09,223.92 L145.76,226.33 L146.43,228.82 L147.1,231.4 L147.77,234.06 L148.44,236.8 L149.11,239.59 L149.78,242.45 L150.45,245.37 L151.13,248.33 L151.8,251.34 L152.47,254.4 L153.14,257.49 L153.81,260.63 L154.48,263.79 L155.15,266.99 L155.82,270.21"/>
<path d="M116.35,270.21 L117,267.19 L117.65,264.2 L118.3,261.25 L118.95,258.33 L119.6,255.46 L120.25,252.62 L120.9,249.83 L121.55,247.1 L122.2,244.41 L122.85,241.79 L123.5,239.23 L124.15,236.74 L124.8,234.32 L125.45,231.98 L126.1,229.72 L126.75,227.56 L127.4,225.5 L128.05,223.54 L128.7,221.7 L129.35,219.98 L130,218.4 L130.65,216.95 L131.3,215.65 L131.95,214.5 L132.6,213.52 L133.25,212.7 L133.9,212.06 L134.55,211.6 L135.2,211.33 L135.85,211.23 L136.5,211.33 L137.15,211.6 L137.8,212.06 L138.45,212.7 L139.1,213.52 L139.75,214.5 L140.4,215.65 L141.05,216.95 L141.7,218.4 L142.35,219.98 L143,221.7 L143.65,223.54 L144.3,225.5 L144.95,227.56 L145.6,229.72 L146.25,231.98 L146.9,234.32 L147.55,236.74 L148.2,239.23 L148.85,241.79 L149.5,244.41 L150.15,247.1 L150.8,249.83 L151.45,252.62 L152.1,255.46 L152.75,258.33 L153.4,261.25 L154.05,264.2 L154.7,267.19 L155.35,270.21"/>
<path d="M117.12,270.21 L117.75,267.42 L118.38,264.65 L119.01,261.92 L119.64,259.24 L120.27,256.59 L120.9,253.99 L121.53,251.44 L122.16,248.95 L122.79,246.51 L123.42,244.12 L124.05,241.81 L124.67,239.56 L125.3,237.38 L125.93,235.28 L126.56,233.27 L127.19,231.35 L127.82,229.52 L128.45,227.79 L129.08,226.17 L129.71,224.66 L130.34,223.27 L130.97,222.01 L131.6,220.88 L132.22,219.89 L132.85,219.04 L133.48,218.34 L134.11,217.79 L134.74,217.4 L135.37,217.16 L136,217.08 L136.63,217.16 L137.26,217.4 L137.89,217.79 L138.52,218.34 L139.15,219.04 L139.78,219.89 L140.4,220.88 L141.03,222.01 L141.66,223.27 L142.29,224.66 L142.92,226.17 L143.55,227.79 L144.18,229.52 L144.81,231.35 L145.44,233.27 L146.07,235.28 L146.7,237.38 L147.33,239.56 L147.95,241.81 L148.58,244.12 L149.21,246.51 L149.84,248.95 L150.47,251.44 L151.1,253.99 L151.73,256.59 L152.36,259.24 L152.99,261.92 L153.62,264.65 L154.25,267.42 L154.88,270.21"/>
<path d="M117.89,270.21 L118.5,267.65 L119.11,265.13 L119.72,262.65 L120.33,260.21 L120.93,257.81 L121.54,255.46 L122.15,253.16 L122.76,250.91 L123.37,248.72 L123.98,246.58 L124.59,244.52 L125.2,242.51 L125.8,240.58 L126.41,238.73 L127.02,236.95 L127.63,235.26 L128.24,233.66 L128.85,232.15 L129.46,230.74 L130.06,229.43 L130.67,228.23 L131.28,227.15 L131.89,226.18 L132.5,225.33 L133.11,224.6 L133.72,224 L134.32,223.53 L134.93,223.2 L135.54,222.99 L136.15,222.93 L136.76,222.99 L137.37,223.2 L137.98,223.53 L138.58,224 L139.19,224.6 L139.8,225.33 L140.41,226.18 L141.02,227.15 L141.63,228.23 L142.24,229.43 L142.84,230.74 L143.45,232.15 L144.06,233.66 L144.67,235.26 L145.28,236.95 L145.89,238.73 L146.5,240.58 L147.1,242.51 L147.71,244.52 L148.32,246.58 L148.93,248.72 L149.54,250.91 L150.15,253.16 L150.76,255.46 L151.37,257.81 L151.97,260.21 L152.58,262.65 L153.19,265.13 L153.8,267.65 L154.41,270.21"/>
<path d="M118.65,270.21 L119.24,267.91 L119.83,265.65 L120.42,263.42 L121.01,261.24 L121.6,259.1 L122.18,257.01 L122.77,254.97 L123.36,252.98 L123.95,251.04 L124.54,249.16 L125.12,247.35 L125.71,245.6 L126.3,243.91 L126.89,242.3 L127.48,240.76 L128.07,239.29 L128.65,237.91 L129.24,236.61 L129.83,235.41 L130.42,234.29 L131.01,233.27 L131.59,232.34 L132.18,231.52 L132.77,230.8 L133.36,230.18 L133.95,229.68 L134.54,229.28 L135.12,229 L135.71,228.83 L136.3,228.77 L136.89,228.83 L137.48,229 L138.06,229.28 L138.65,229.68 L139.24,230.18 L139.83,230.8 L140.42,231.52 L141.01,232.34 L141.59,233.27 L142.18,234.29 L142.77,235.41 L143.36,236.61 L143.95,237.91 L144.53,239.29 L145.12,240.76 L145.71,242.3 L146.3,243.91 L146.89,245.6 L147.48,247.35 L148.06,249.16 L148.65,251.04 L149.24,252.98 L149.83,254.97 L150.42,257.01 L151,259.1 L151.59,261.24 L152.18,263.42 L152.77,265.65 L153.36,267.91 L153.95,270.21"/>
<path d="M322.52,11.29 L323.29,15.37 L324.06,19.45 L324.84,23.52 L325.61,27.58 L326.38,31.63 L327.15,35.67 L327.93,39.7 L328.7,43.71 L329.47,47.7 L330.25,51.67 L331.02,55.63 L331.79,59.55 L332.56,63.45 L333.34,67.32 L334.11,71.14 L334.88,74.92 L335.65,78.65 L336.43,82.31 L337.2,85.89 L337.97,89.38 L338.75,92.76 L339.52,95.99 L340.29,99.05 L341.06,101.9 L341.84,104.49 L342.61,106.75 L343.38,108.62 L344.15,110.02 L344.93,110.9 L345.7,111.19 L346.47,110.9 L347.25,110.02 L348.02,108.62 L348.79,106.75 L349.56,104.49 L350.34,101.9 L351.11,99.05 L351.88,95.99 L352.65,92.76 L353.43,89.38 L354.2,85.89 L354.97,82.31 L355.75,78.65 L356.52,74.92 L357.29,71.14 L358.06,67.32 L358.84,63.45 L359.61,59.55 L360.38,55.63 L361.15,51.67 L361.93,47.7 L362.7,43.71 L363.47,39.7 L364.25,35.67 L365.02,31.63 L365.79,27.58 L366.56,23.52 L367.34,19.45 L368.11,15.37 L368.88,11.29"/>
<path d="M323.14,11.29 L323.89,15.28 L324.64,19.26 L325.39,23.24 L326.13,27.2 L326.88,31.14 L327.63,35.07 L328.38,38.98 L329.13,42.87 L329.88,46.74 L330.63,50.58 L331.38,54.39 L332.12,58.17 L332.87,61.92 L333.62,65.62 L334.37,69.27 L335.12,72.86 L335.87,76.38 L336.62,79.83 L337.36,83.18 L338.11,86.42 L338.86,89.52 L339.61,92.47 L340.36,95.23 L341.11,97.77 L341.86,100.04 L342.61,101.99 L343.35,103.58 L344.1,104.76 L344.85,105.49 L345.6,105.73 L346.35,105.49 L347.1,104.76 L347.85,103.58 L348.59,101.99 L349.34,100.04 L350.09,97.77 L350.84,95.23 L351.59,92.47 L352.34,89.52 L353.09,86.42 L353.84,83.18 L354.58,79.83 L355.33,76.38 L356.08,72.86 L356.83,69.27 L357.58,65.62 L358.33,61.92 L359.08,58.17 L359.82,54.39 L360.57,50.58 L361.32,46.74 L362.07,42.87 L362.82,38.98 L363.57,35.07 L364.32,31.14 L365.07,27.2 L365.81,23.24 L366.56,19.26 L367.31,15.28 L368.06,11.29"/>
<path d="M323.76,11.29 L324.49,15.17 L325.21,19.05 L325.93,22.9 L326.66,26.75 L327.38,30.57 L328.11,34.37 L328.83,38.15 L329.56,41.9 L330.28,45.63 L331.01,49.32 L331.73,52.98 L332.46,56.59 L333.18,60.16 L333.91,63.68 L334.63,67.14 L335.35,70.52 L336.08,73.83 L336.8,77.05 L337.53,80.16 L338.25,83.14 L338.98,85.98 L339.7,88.66 L340.43,91.13 L341.15,93.39 L341.88,95.38 L342.6,97.08 L343.33,98.45 L344.05,99.45 L344.78,100.07 L345.5,100.27 L346.22,100.07 L346.95,99.45 L347.67,98.45 L348.4,97.08 L349.12,95.38 L349.85,93.39 L350.57,91.13 L351.3,88.66 L352.02,85.98 L352.75,83.14 L353.47,80.16 L354.2,77.05 L354.92,73.83 L355.65,70.52 L356.37,67.14 L357.09,63.68 L357.82,60.16 L358.54,56.59 L359.27,52.98 L359.99,49.32 L360.72,45.63 L361.44,41.9 L362.17,38.15 L362.89,34.37 L363.62,30.57 L364.34,26.75 L365.07,22.9 L365.79,19.05 L366.51,15.17 L367.24,11.29"/>
<path d="M324.38,11.29 L325.08,15.05 L325.78,18.8 L326.48,22.52 L327.18,26.23 L327.88,29.92 L328.58,33.57 L329.29,37.2 L329.99,40.8 L330.69,44.37 L331.39,47.9 L332.09,51.38 L332.79,54.82 L333.49,58.2 L334.19,61.52 L334.89,64.77 L335.59,67.94 L336.29,71.03 L336.99,74.01 L337.69,76.87 L338.39,79.61 L339.09,82.19 L339.79,84.61 L340.5,86.82 L341.2,88.82 L341.9,90.58 L342.6,92.06 L343.3,93.24 L344,94.11 L344.7,94.63 L345.4,94.81 L346.1,94.63 L346.8,94.11 L347.5,93.24 L348.2,92.06 L348.9,90.58 L349.6,88.82 L350.3,86.82 L351.01,84.61 L351.71,82.19 L352.41,79.61 L353.11,76.87 L353.81,74.01 L354.51,71.03 L355.21,67.94 L355.91,64.77 L356.61,61.52 L357.31,58.2 L358.01,54.82 L358.71,51.38 L359.41,47.9 L360.11,44.37 L360.81,40.8 L361.51,37.2 L362.22,33.57 L362.92,29.92 L363.62,26.23 L364.32,22.52 L365.02,18.8 L365.72,15.05 L366.42,11.29"/>
<path d="M325,11.29 L325.68,14.91 L326.35,18.52 L327.03,22.1 L327.71,25.66 L328.38,29.18 L329.06,32.68 L329.74,36.15 L330.41,39.58 L331.09,42.97 L331.77,46.32 L332.44,49.62 L333.12,52.86 L333.8,56.04 L334.47,59.15 L335.15,62.19 L335.83,65.14 L336.5,68 L337.18,70.74 L337.86,73.37 L338.53,75.86 L339.21,78.2 L339.89,80.37 L340.56,82.35 L341.24,84.12 L341.92,85.67 L342.59,86.96 L343.27,87.99 L343.95,88.74 L344.62,89.2 L345.3,89.35 L345.98,89.2 L346.65,88.74 L347.33,87.99 L348.01,86.96 L348.68,85.67 L349.36,84.12 L350.04,82.35 L350.71,80.37 L351.39,78.2 L352.07,75.86 L352.74,73.37 L353.42,70.74 L354.1,68 L354.77,65.14 L355.45,62.19 L356.13,59.15 L356.8,56.04 L357.48,52.86 L358.16,49.62 L358.83,46.32 L359.51,42.97 L360.19,39.58 L360.86,36.15 L361.54,32.68 L362.22,29.18 L362.89,25.66 L363.57,22.1 L364.25,18.52 L364.92,14.91 L365.6,11.29"/>
<path d="M325.62,11.29 L326.27,14.76 L326.92,18.2 L327.58,21.63 L328.23,25.02 L328.88,28.38 L329.54,31.7 L330.19,34.99 L330.84,38.24 L331.49,41.44 L332.15,44.6 L332.8,47.69 L333.45,50.73 L334.1,53.7 L334.76,56.6 L335.41,59.42 L336.06,62.14 L336.72,64.77 L337.37,67.28 L338.02,69.67 L338.67,71.93 L339.33,74.04 L339.98,75.98 L340.63,77.74 L341.28,79.31 L341.94,80.68 L342.59,81.81 L343.24,82.71 L343.89,83.36 L344.55,83.76 L345.2,83.89 L345.85,83.76 L346.51,83.36 L347.16,82.71 L347.81,81.81 L348.46,80.68 L349.12,79.31 L349.77,77.74 L350.42,75.98 L351.07,74.04 L351.73,71.93 L352.38,69.67 L353.03,67.28 L353.68,64.77 L354.34,62.14 L354.99,59.42 L355.64,56.6 L356.3,53.7 L356.95,50.73 L357.6,47.69 L358.25,44.6 L358.91,41.44 L359.56,38.24 L360.21,34.99 L360.86,31.7 L361.52,28.38 L362.17,25.02 L362.82,21.63 L363.48,18.2 L364.13,14.76 L364.78,11.29"/>
<path d="M326.24,11.29 L326.87,14.59 L327.49,17.86 L328.12,21.11 L328.75,24.32 L329.38,27.5 L330.01,30.64 L330.64,33.73 L331.27,36.78 L331.9,39.79 L332.52,42.73 L333.15,45.62 L333.78,48.45 L334.41,51.2 L335.04,53.88 L335.67,56.47 L336.3,58.97 L336.93,61.36 L337.55,63.65 L338.18,65.81 L338.81,67.85 L339.44,69.74 L340.07,71.47 L340.7,73.04 L341.33,74.42 L341.96,75.62 L342.58,76.62 L343.21,77.4 L343.84,77.97 L344.47,78.31 L345.1,78.43 L345.73,78.31 L346.36,77.97 L346.99,77.4 L347.62,76.62 L348.24,75.62 L348.87,74.42 L349.5,73.04 L350.13,71.47 L350.76,69.74 L351.39,67.85 L352.02,65.81 L352.65,63.65 L353.27,61.36 L353.9,58.97 L354.53,56.47 L355.16,53.88 L355.79,51.2 L356.42,48.45 L357.05,45.62 L357.68,42.73 L358.3,39.79 L358.93,36.78 L359.56,33.73 L360.19,30.64 L360.82,27.5 L361.45,24.32 L362.08,21.11 L362.71,17.86 L363.33,14.59 L363.96,11.29"/>
<path d="M326.85,11.29 L327.46,14.4 L328.06,17.49 L328.67,20.54 L329.27,23.56 L329.88,26.54 L330.48,29.48 L331.09,32.37 L331.69,35.22 L332.3,38.01 L332.9,40.74 L333.51,43.41 L334.11,46.02 L334.72,48.55 L335.32,51 L335.93,53.36 L336.53,55.64 L337.14,57.81 L337.74,59.87 L338.35,61.82 L338.95,63.64 L339.56,65.32 L340.16,66.86 L340.77,68.24 L341.37,69.47 L341.98,70.52 L342.58,71.39 L343.19,72.07 L343.79,72.57 L344.4,72.87 L345,72.97 L345.6,72.87 L346.21,72.57 L346.81,72.07 L347.42,71.39 L348.02,70.52 L348.63,69.47 L349.23,68.24 L349.84,66.86 L350.44,65.32 L351.05,63.64 L351.65,61.82 L352.26,59.87 L352.86,57.81 L353.47,55.64 L354.07,53.36 L354.68,51 L355.28,48.55 L355.89,46.02 L356.49,43.41 L357.1,40.74 L357.7,38.01 L358.31,35.22 L358.91,32.37 L359.52,29.48 L360.12,26.54 L360.73,23.56 L361.33,20.54 L361.94,17.49 L362.54,14.4 L363.15,11.29"/>
<path d="M327.47,11.29 L328.05,14.2 L328.63,17.09 L329.21,19.94 L329.79,22.75 L330.37,25.52 L330.96,28.24 L331.54,30.92 L332.12,33.54 L332.7,36.11 L333.28,38.62 L333.86,41.07 L334.44,43.45 L335.02,45.75 L335.6,47.98 L336.18,50.12 L336.77,52.17 L337.35,54.12 L337.93,55.97 L338.51,57.7 L339.09,59.32 L339.67,60.81 L340.25,62.17 L340.83,63.39 L341.41,64.46 L341.99,65.38 L342.58,66.13 L343.16,66.73 L343.74,67.16 L344.32,67.42 L344.9,67.5 L345.48,67.42 L346.06,67.16 L346.64,66.73 L347.22,66.13 L347.81,65.38 L348.39,64.46 L348.97,63.39 L349.55,62.17 L350.13,60.81 L350.71,59.32 L351.29,57.7 L351.87,55.97 L352.45,54.12 L353.03,52.17 L353.62,50.12 L354.2,47.98 L354.78,45.75 L355.36,43.45 L355.94,41.07 L356.52,38.62 L357.1,36.11 L357.68,33.54 L358.26,30.92 L358.84,28.24 L359.43,25.52 L360.01,22.75 L360.59,19.94 L361.17,17.09 L361.75,14.2 L362.33,11.29"/>
<path d="M328.08,11.29 L328.64,13.99 L329.2,16.66 L329.75,19.29 L330.31,21.88 L330.87,24.42 L331.43,26.92 L331.98,29.37 L332.54,31.77 L333.1,34.11 L333.65,36.39 L334.21,38.61 L334.77,40.76 L335.33,42.83 L335.88,44.83 L336.44,46.75 L337,48.58 L337.56,50.31 L338.11,51.95 L338.67,53.48 L339.23,54.91 L339.78,56.22 L340.34,57.41 L340.9,58.47 L341.46,59.4 L342.01,60.2 L342.57,60.86 L343.13,61.38 L343.69,61.75 L344.24,61.97 L344.8,62.04 L345.36,61.97 L345.91,61.75 L346.47,61.38 L347.03,60.86 L347.59,60.2 L348.14,59.4 L348.7,58.47 L349.26,57.41 L349.82,56.22 L350.37,54.91 L350.93,53.48 L351.49,51.95 L352.04,50.31 L352.6,48.58 L353.16,46.75 L353.72,44.83 L354.27,42.83 L354.83,40.76 L355.39,38.61 L355.95,36.39 L356.5,34.11 L357.06,31.77 L357.62,29.37 L358.17,26.92 L358.73,24.42 L359.29,21.88 L359.85,19.29 L360.4,16.66 L360.96,13.99 L361.52,11.29"/>
<path d="M328.69,11.29 L329.23,13.76 L329.76,16.2 L330.29,18.59 L330.83,20.95 L331.36,23.26 L331.89,25.52 L332.43,27.74 L332.96,29.9 L333.5,32 L334.03,34.05 L334.56,36.03 L335.1,37.95 L335.63,39.8 L336.16,41.57 L336.7,43.26 L337.23,44.88 L337.76,46.4 L338.3,47.84 L338.83,49.18 L339.36,50.42 L339.9,51.56 L340.43,52.59 L340.97,53.51 L341.5,54.31 L342.03,55 L342.57,55.57 L343.1,56.01 L343.63,56.33 L344.17,56.52 L344.7,56.58 L345.23,56.52 L345.77,56.33 L346.3,56.01 L346.83,55.57 L347.37,55 L347.9,54.31 L348.43,53.51 L348.97,52.59 L349.5,51.56 L350.04,50.42 L350.57,49.18 L351.1,47.84 L351.64,46.4 L352.17,44.88 L352.7,43.26 L353.24,41.57 L353.77,39.8 L354.3,37.95 L354.84,36.03 L355.37,34.05 L355.9,32 L356.44,29.9 L356.97,27.74 L357.51,25.52 L358.04,23.26 L358.57,20.95 L359.11,18.59 L359.64,16.2 L360.17,13.76 L360.71,11.29"/>
<path d="M322.52,270.21 L323.29,266.13 L324.06,262.05 L324.84,257.98 L325.61,253.92 L326.38,249.87 L327.15,245.83 L327.93,241.8 L328.7,237.79 L329.47,233.8 L330.25,229.83 L331.02,225.87 L331.79,221.95 L332.56,218.05 L333.34,214.18 L334.11,210.36 L334.88,206.58 L335.65,202.85 L336.43,199.19 L337.2,195.61 L337.97,192.12 L338.75,188.74 L339.52,185.51 L340.29,182.45 L341.06,179.6 L341.84,177.01 L342.61,174.75 L343.38,172.88 L344.15,171.48 L344.93,170.6 L345.7,170.31 L346.47,170.6 L347.25,171.48 L348.02,172.88 L348.79,174.75 L349.56,177.01 L350.34,179.6 L351.11,182.45 L351.88,185.51 L352.65,188.74 L353.43,192.12 L354.2,195.61 L354.97,199.19 L355.75,202.85 L356.52,206.58 L357.29,210.36 L358.06,214.18 L358.84,218.05 L359.61,221.95 L360.38,225.87 L361.15,229.83 L361.93,233.8 L362.7,237.79 L363.47,241.8 L364.25,245.83 L365.02,249.87 L365.79,253.92 L366.56,257.98 L367.34,262.05 L368.11,266.13 L368.88,270.21"/>
<path d="M323.14,270.21 L323.89,266.23 L324.64,262.25 L325.39,258.28 L326.13,254.33 L326.88,250.4 L327.63,246.48 L328.38,242.57 L329.13,238.69 L329.88,234.84 L330.63,231 L331.37,227.2 L332.12,223.43 L332.87,219.7 L333.62,216.01 L334.37,212.38 L335.12,208.8 L335.87,205.29 L336.62,201.86 L337.36,198.53 L338.11,195.31 L338.86,192.22 L339.61,189.29 L340.36,186.55 L341.11,184.03 L341.86,181.79 L342.61,179.85 L343.35,178.28 L344.1,177.11 L344.85,176.39 L345.6,176.15 L346.35,176.39 L347.1,177.11 L347.85,178.28 L348.59,179.85 L349.34,181.79 L350.09,184.03 L350.84,186.55 L351.59,189.29 L352.34,192.22 L353.09,195.31 L353.84,198.53 L354.58,201.86 L355.33,205.29 L356.08,208.8 L356.83,212.38 L357.58,216.01 L358.33,219.7 L359.08,223.43 L359.83,227.2 L360.57,231 L361.32,234.84 L362.07,238.69 L362.82,242.57 L363.57,246.48 L364.32,250.4 L365.07,254.33 L365.81,258.28 L366.56,262.25 L367.31,266.23 L368.06,270.21"/>
<path d="M323.76,270.21 L324.48,266.34 L325.21,262.49 L325.93,258.65 L326.66,254.82 L327.38,251.02 L328.11,247.24 L328.83,243.48 L329.56,239.75 L330.28,236.04 L331.01,232.37 L331.73,228.74 L332.46,225.15 L333.18,221.6 L333.91,218.11 L334.63,214.68 L335.35,211.33 L336.08,208.05 L336.8,204.87 L337.53,201.79 L338.25,198.84 L338.98,196.04 L339.7,193.4 L340.43,190.96 L341.15,188.75 L341.88,186.79 L342.6,185.13 L343.33,183.79 L344.05,182.8 L344.78,182.2 L345.5,182 L346.22,182.2 L346.95,182.8 L347.67,183.79 L348.4,185.13 L349.12,186.79 L349.85,188.75 L350.57,190.96 L351.3,193.4 L352.02,196.04 L352.75,198.84 L353.47,201.79 L354.2,204.87 L354.92,208.05 L355.65,211.33 L356.37,214.68 L357.09,218.11 L357.82,221.6 L358.54,225.15 L359.27,228.74 L359.99,232.37 L360.72,236.04 L361.44,239.75 L362.17,243.48 L362.89,247.24 L363.62,251.02 L364.34,254.82 L365.07,258.65 L365.79,262.49 L366.52,266.34 L367.24,270.21"/>
<path d="M324.38,270.21 L325.08,266.48 L325.78,262.76 L326.48,259.06 L327.18,255.39 L327.88,251.73 L328.58,248.11 L329.28,244.51 L329.99,240.94 L330.69,237.41 L331.39,233.92 L332.09,230.48 L332.79,227.08 L333.49,223.74 L334.19,220.47 L334.89,217.26 L335.59,214.13 L336.29,211.1 L336.99,208.17 L337.69,205.35 L338.39,202.67 L339.09,200.14 L339.79,197.78 L340.5,195.61 L341.2,193.66 L341.9,191.95 L342.6,190.51 L343.3,189.36 L344,188.53 L344.7,188.02 L345.4,187.85 L346.1,188.02 L346.8,188.53 L347.5,189.36 L348.2,190.51 L348.9,191.95 L349.6,193.66 L350.3,195.61 L351.01,197.78 L351.71,200.14 L352.41,202.67 L353.11,205.35 L353.81,208.17 L354.51,211.1 L355.21,214.13 L355.91,217.26 L356.61,220.47 L357.31,223.74 L358.01,227.08 L358.71,230.48 L359.41,233.92 L360.11,237.41 L360.81,240.94 L361.52,244.51 L362.22,248.11 L362.92,251.73 L363.62,255.39 L364.32,259.06 L365.02,262.76 L365.72,266.48 L366.42,270.21"/>
<path d="M325,270.21 L325.68,266.63 L326.35,263.07 L327.03,259.53 L327.71,256.02 L328.38,252.54 L329.06,249.08 L329.74,245.66 L330.41,242.28 L331.09,238.95 L331.77,235.65 L332.44,232.41 L333.12,229.22 L333.8,226.1 L334.47,223.05 L335.15,220.07 L335.83,217.19 L336.5,214.4 L337.18,211.72 L337.86,209.16 L338.53,206.73 L339.21,204.46 L339.89,202.36 L340.56,200.44 L341.24,198.73 L341.92,197.24 L342.59,195.99 L343.27,194.99 L343.95,194.27 L344.62,193.84 L345.3,193.69 L345.98,193.84 L346.65,194.27 L347.33,194.99 L348.01,195.99 L348.68,197.24 L349.36,198.73 L350.04,200.44 L350.71,202.36 L351.39,204.46 L352.07,206.73 L352.74,209.16 L353.42,211.72 L354.1,214.4 L354.77,217.19 L355.45,220.07 L356.13,223.05 L356.8,226.1 L357.48,229.22 L358.16,232.41 L358.83,235.65 L359.51,238.95 L360.19,242.28 L360.86,245.66 L361.54,249.08 L362.22,252.54 L362.89,256.02 L363.57,259.53 L364.25,263.07 L364.92,266.63 L365.6,270.21"/>
<path d="M325.62,270.21 L326.27,266.8 L326.92,263.41 L327.57,260.05 L328.23,256.72 L328.88,253.42 L329.53,250.16 L330.19,246.94 L330.84,243.76 L331.49,240.63 L332.14,237.55 L332.8,234.52 L333.45,231.56 L334.1,228.66 L334.76,225.84 L335.41,223.1 L336.06,220.46 L336.71,217.92 L337.37,215.48 L338.02,213.17 L338.67,211 L339.32,208.97 L339.98,207.1 L340.63,205.41 L341.28,203.9 L341.94,202.6 L342.59,201.52 L343.24,200.66 L343.89,200.04 L344.55,199.66 L345.2,199.54 L345.85,199.66 L346.51,200.04 L347.16,200.66 L347.81,201.52 L348.46,202.6 L349.12,203.9 L349.77,205.41 L350.42,207.1 L351.08,208.97 L351.73,211 L352.38,213.17 L353.03,215.48 L353.69,217.92 L354.34,220.46 L354.99,223.1 L355.64,225.84 L356.3,228.66 L356.95,231.56 L357.6,234.52 L358.26,237.55 L358.91,240.63 L359.56,243.76 L360.21,246.94 L360.87,250.16 L361.52,253.42 L362.17,256.72 L362.83,260.05 L363.48,263.41 L364.13,266.8 L364.78,270.21"/>
<path d="M326.23,270.21 L326.86,266.99 L327.49,263.79 L328.12,260.63 L328.75,257.49 L329.38,254.4 L330.01,251.34 L330.64,248.33 L331.26,245.37 L331.89,242.45 L332.52,239.59 L333.15,236.8 L333.78,234.06 L334.41,231.4 L335.04,228.82 L335.67,226.33 L336.3,223.92 L336.92,221.62 L337.55,219.43 L338.18,217.36 L338.81,215.42 L339.44,213.62 L340.07,211.97 L340.7,210.48 L341.33,209.17 L341.96,208.04 L342.58,207.09 L343.21,206.35 L343.84,205.82 L344.47,205.49 L345.1,205.39 L345.73,205.49 L346.36,205.82 L346.99,206.35 L347.62,207.09 L348.24,208.04 L348.87,209.17 L349.5,210.48 L350.13,211.97 L350.76,213.62 L351.39,215.42 L352.02,217.36 L352.65,219.43 L353.28,221.62 L353.9,223.92 L354.53,226.33 L355.16,228.82 L355.79,231.4 L356.42,234.06 L357.05,236.8 L357.68,239.59 L358.31,242.45 L358.94,245.37 L359.56,248.33 L360.19,251.34 L360.82,254.4 L361.45,257.49 L362.08,260.63 L362.71,263.79 L363.34,266.99 L363.97,270.21"/>
<path d="M326.85,270.21 L327.45,267.19 L328.06,264.2 L328.66,261.25 L329.27,258.33 L329.87,255.46 L330.48,252.62 L331.08,249.83 L331.69,247.1 L332.29,244.41 L332.9,241.79 L333.5,239.23 L334.11,236.74 L334.71,234.32 L335.32,231.98 L335.92,229.72 L336.53,227.56 L337.13,225.5 L337.74,223.54 L338.34,221.7 L338.95,219.98 L339.55,218.4 L340.16,216.95 L340.76,215.65 L341.37,214.5 L341.97,213.52 L342.58,212.7 L343.18,212.06 L343.79,211.6 L344.39,211.33 L345,211.23 L345.61,211.33 L346.21,211.6 L346.82,212.06 L347.42,212.7 L348.03,213.52 L348.63,214.5 L349.24,215.65 L349.84,216.95 L350.45,218.4 L351.05,219.98 L351.66,221.7 L352.26,223.54 L352.87,225.5 L353.47,227.56 L354.08,229.72 L354.68,231.98 L355.29,234.32 L355.89,236.74 L356.5,239.23 L357.1,241.79 L357.71,244.41 L358.31,247.1 L358.92,249.83 L359.52,252.62 L360.13,255.46 L360.73,258.33 L361.34,261.25 L361.94,264.2 L362.55,267.19 L363.15,270.21"/>
<path d="M327.46,270.21 L328.04,267.42 L328.62,264.65 L329.2,261.92 L329.79,259.24 L330.37,256.59 L330.95,253.99 L331.53,251.44 L332.11,248.95 L332.69,246.51 L333.27,244.12 L333.86,241.81 L334.44,239.56 L335.02,237.38 L335.6,235.28 L336.18,233.27 L336.76,231.35 L337.34,229.52 L337.92,227.79 L338.51,226.17 L339.09,224.66 L339.67,223.27 L340.25,222.01 L340.83,220.88 L341.41,219.89 L341.99,219.04 L342.57,218.34 L343.16,217.79 L343.74,217.4 L344.32,217.16 L344.9,217.08 L345.48,217.16 L346.06,217.4 L346.64,217.79 L347.23,218.34 L347.81,219.04 L348.39,219.89 L348.97,220.88 L349.55,222.01 L350.13,223.27 L350.71,224.66 L351.29,226.17 L351.88,227.79 L352.46,229.52 L353.04,231.35 L353.62,233.27 L354.2,235.28 L354.78,237.38 L355.36,239.56 L355.94,241.81 L356.53,244.12 L357.11,246.51 L357.69,248.95 L358.27,251.44 L358.85,253.99 L359.43,256.59 L360.01,259.24 L360.6,261.92 L361.18,264.65 L361.76,267.42 L362.34,270.21"/>
<path d="M328.07,270.21 L328.63,267.65 L329.19,265.13 L329.74,262.65 L330.3,260.21 L330.86,257.81 L331.42,255.46 L331.97,253.16 L332.53,250.91 L333.09,248.72 L333.65,246.58 L334.2,244.52 L334.76,242.51 L335.32,240.58 L335.88,238.73 L336.44,236.95 L336.99,235.26 L337.55,233.66 L338.11,232.15 L338.67,230.74 L339.22,229.43 L339.78,228.23 L340.34,227.15 L340.9,226.18 L341.45,225.33 L342.01,224.6 L342.57,224 L343.13,223.53 L343.68,223.2 L344.24,222.99 L344.8,222.93 L345.36,222.99 L345.92,223.2 L346.47,223.53 L347.03,224 L347.59,224.6 L348.15,225.33 L348.7,226.18 L349.26,227.15 L349.82,228.23 L350.38,229.43 L350.93,230.74 L351.49,232.15 L352.05,233.66 L352.61,235.26 L353.16,236.95 L353.72,238.73 L354.28,240.58 L354.84,242.51 L355.4,244.52 L355.95,246.58 L356.51,248.72 L357.07,250.91 L357.63,253.16 L358.18,255.46 L358.74,257.81 L359.3,260.21 L359.86,262.65 L360.41,265.13 L360.97,267.65 L361.53,270.21"/>
<path d="M328.68,270.21 L329.21,267.91 L329.75,265.65 L330.28,263.42 L330.81,261.24 L331.35,259.1 L331.88,257.01 L332.42,254.97 L332.95,252.98 L333.48,251.04 L334.02,249.16 L334.55,247.35 L335.09,245.6 L335.62,243.91 L336.15,242.3 L336.69,240.76 L337.22,239.29 L337.76,237.91 L338.29,236.61 L338.83,235.41 L339.36,234.29 L339.89,233.27 L340.43,232.34 L340.96,231.52 L341.5,230.8 L342.03,230.18 L342.56,229.68 L343.1,229.28 L343.63,229 L344.17,228.83 L344.7,228.77 L345.23,228.83 L345.77,229 L346.3,229.28 L346.84,229.68 L347.37,230.18 L347.9,230.8 L348.44,231.52 L348.97,232.34 L349.51,233.27 L350.04,234.29 L350.57,235.41 L351.11,236.61 L351.64,237.91 L352.18,239.29 L352.71,240.76 L353.25,242.3 L353.78,243.91 L354.31,245.6 L354.85,247.35 L355.38,249.16 L355.92,251.04 L356.45,252.98 L356.98,254.97 L357.52,257.01 L358.05,259.1 L358.59,261.24 L359.12,263.42 L359.65,265.65 L360.19,267.91 L360.72,270.21"/>
</g>
<g stroke="#2a2aa4" stroke-dasharray="9.5 6.4 0.9 6.9" stroke-dashoffset="16.8" stroke-width="1.35">
<path d="M110.91,11.29 L111.71,15.37 L112.5,19.45 L113.3,23.52 L114.1,27.58 L114.89,31.63 L115.69,35.67 L116.49,39.7 L117.28,43.71 L118.08,47.7 L118.87,51.67 L119.67,55.63 L120.47,59.55 L121.26,63.45 L122.06,67.32 L122.86,71.14 L123.65,74.92 L124.45,78.65"/>
<path d="M111.69,11.29 L112.47,15.28 L113.24,19.26 L114.02,23.24 L114.79,27.2 L115.57,31.14 L116.34,35.07 L117.12,38.98 L117.89,42.87 L118.67,46.74 L119.45,50.58 L120.22,54.39 L121,58.17 L121.77,61.92 L122.55,65.62 L123.32,69.27 L124.1,72.86 L124.87,76.38"/>
<path d="M112.47,11.29 L113.23,15.17 L113.98,19.05 L114.74,22.9 L115.49,26.75 L116.24,30.57 L117,34.37 L117.75,38.15 L118.51,41.9 L119.26,45.63 L120.02,49.32 L120.77,52.98 L121.52,56.59 L122.28,60.16 L123.03,63.68 L123.79,67.14 L124.54,70.52"/>
<path d="M113.25,11.29 L113.99,15.05 L114.72,18.8 L115.45,22.52 L116.19,26.23 L116.92,29.92 L117.65,33.57 L118.39,37.2 L119.12,40.8 L119.85,44.37 L120.59,47.9 L121.32,51.38 L122.05,54.82 L122.78,58.2 L123.52,61.52 L124.25,64.77"/>
<path d="M114.03,11.29 L114.74,14.91 L115.46,18.52 L116.17,22.1 L116.88,25.66 L117.59,29.18 L118.3,32.68 L119.02,36.15 L119.73,39.58 L120.44,42.97 L121.15,46.32 L121.87,49.62 L122.58,52.86 L123.29,56.04 L124,59.15"/>
<path d="M114.81,11.29 L115.5,14.76 L116.19,18.2 L116.88,21.63 L117.57,25.02 L118.27,28.38 L118.96,31.7 L119.65,34.99 L120.34,38.24 L121.03,41.44 L121.72,44.6 L122.41,47.69 L123.11,50.73 L123.8,53.7"/>
<path d="M115.58,11.29 L116.26,14.59 L116.93,17.86 L117.6,21.11 L118.27,24.32 L118.94,27.5 L119.61,30.64 L120.28,33.73 L120.95,36.78 L121.62,39.79 L122.29,42.73 L122.96,45.62 L123.63,48.45"/>
<path d="M116.36,11.29 L117.01,14.4 L117.66,17.49 L118.31,20.54 L118.96,23.56 L119.61,26.54 L120.26,29.48 L120.91,32.37 L121.56,35.22 L122.21,38.01 L122.86,40.74 L123.51,43.41"/>
<path d="M117.13,11.29 L117.76,14.2 L118.39,17.09 L119.02,19.94 L119.65,22.75 L120.28,25.52 L120.91,28.24 L121.54,30.92 L122.16,33.54 L122.79,36.11"/>
<path d="M117.9,11.29 L118.51,13.99 L119.12,16.66 L119.73,19.29 L120.34,21.88 L120.95,24.42 L121.55,26.92 L122.16,29.37 L122.77,31.77"/>
<path d="M118.67,11.29 L119.26,13.76 L119.85,16.2 L120.43,18.59 L121.02,20.95 L121.61,23.26 L122.2,25.52"/>
<path d="M110.91,270.21 L111.71,266.13 L112.5,262.05 L113.3,257.98 L114.1,253.92 L114.89,249.87 L115.69,245.83 L116.49,241.8 L117.28,237.79 L118.08,233.8 L118.87,229.83 L119.67,225.87 L120.47,221.95 L121.26,218.05 L122.06,214.18 L122.86,210.36 L123.65,206.58 L124.45,202.85"/>
<path d="M111.69,270.21 L112.47,266.23 L113.24,262.25 L114.02,258.28 L114.79,254.33 L115.57,250.4 L116.34,246.48 L117.12,242.57 L117.89,238.69 L118.67,234.84 L119.45,231 L120.22,227.2 L121,223.43 L121.77,219.7 L122.55,216.01 L123.32,212.38 L124.1,208.8 L124.87,205.29"/>
<path d="M112.47,270.21 L113.23,266.34 L113.98,262.49 L114.74,258.65 L115.49,254.82 L116.24,251.02 L117,247.24 L117.75,243.48 L118.51,239.75 L119.26,236.04 L120.01,232.37 L120.77,228.74 L121.52,225.15 L122.28,221.6 L123.03,218.11 L123.79,214.68 L124.54,211.33"/>
<path d="M113.25,270.21 L113.98,266.48 L114.72,262.76 L115.45,259.06 L116.18,255.39 L116.92,251.73 L117.65,248.11 L118.38,244.51 L119.12,240.94 L119.85,237.41 L120.58,233.92 L121.32,230.48 L122.05,227.08 L122.78,223.74 L123.52,220.47 L124.25,217.26"/>
<path d="M114.03,270.21 L114.74,266.63 L115.45,263.07 L116.17,259.53 L116.88,256.02 L117.59,252.54 L118.3,249.08 L119.02,245.66 L119.73,242.28 L120.44,238.95 L121.15,235.65 L121.86,232.41 L122.58,229.22 L123.29,226.1 L124,223.05"/>
<path d="M114.81,270.21 L115.5,266.8 L116.19,263.41 L116.88,260.05 L117.57,256.72 L118.26,253.42 L118.95,250.16 L119.65,246.94 L120.34,243.76 L121.03,240.63 L121.72,237.55 L122.41,234.52 L123.1,231.56 L123.79,228.66"/>
<path d="M115.58,270.21 L116.25,266.99 L116.92,263.79 L117.59,260.63 L118.26,257.49 L118.93,254.4 L119.6,251.34 L120.27,248.33 L120.95,245.37 L121.62,242.45 L122.29,239.59 L122.96,236.8"/>
<path d="M116.35,270.21 L117,267.19 L117.65,264.2 L118.3,261.25 L118.95,258.33 L119.6,255.46 L120.25,252.62 L120.9,249.83 L121.55,247.1 L122.2,244.41 L122.85,241.79"/>
<path d="M117.12,270.21 L117.75,267.42 L118.38,264.65 L119.01,261.92 L119.64,259.24 L120.27,256.59 L120.9,253.99 L121.53,251.44 L122.16,248.95 L122.79,246.51"/>
<path d="M117.89,270.21 L118.5,267.65 L119.11,265.13 L119.72,262.65 L120.33,260.21 L120.93,257.81 L121.54,255.46 L122.15,253.16"/>
<path d="M118.65,270.21 L119.24,267.91 L119.83,265.65 L120.42,263.42 L121.01,261.24 L121.6,259.1"/>
<path d="M322.52,11.29 L323.29,15.37 L324.06,19.45 L324.84,23.52 L325.61,27.58 L326.38,31.63 L327.15,35.67 L327.93,39.7 L328.7,43.71 L329.47,47.7 L330.25,51.67 L331.02,55.63 L331.79,59.55 L332.56,63.45 L333.34,67.32 L334.11,71.14 L334.88,74.92 L335.65,78.65"/>
<path d="M323.14,11.29 L323.89,15.28 L324.64,19.26 L325.39,23.24 L326.13,27.2 L326.88,31.14 L327.63,35.07 L328.38,38.98 L329.13,42.87 L329.88,46.74 L330.63,50.58 L331.38,54.39 L332.12,58.17 L332.87,61.92 L333.62,65.62 L334.37,69.27 L335.12,72.86 L335.87,76.38"/>
<path d="M323.76,11.29 L324.49,15.17 L325.21,19.05 L325.93,22.9 L326.66,26.75 L327.38,30.57 L328.11,34.37 L328.83,38.15 L329.56,41.9 L330.28,45.63 L331.01,49.32 L331.73,52.98 L332.46,56.59 L333.18,60.16 L333.91,63.68 L334.63,67.14 L335.35,70.52"/>
<path d="M324.38,11.29 L325.08,15.05 L325.78,18.8 L326.48,22.52 L327.18,26.23 L327.88,29.92 L328.58,33.57 L329.29,37.2 L329.99,40.8 L330.69,44.37 L331.39,47.9 L332.09,51.38 L332.79,54.82 L333.49,58.2 L334.19,61.52 L334.89,64.77"/>
<path d="M325,11.29 L325.68,14.91 L326.35,18.52 L327.03,22.1 L327.71,25.66 L328.38,29.18 L329.06,32.68 L329.74,36.15 L330.41,39.58 L331.09,42.97 L331.77,46.32 L332.44,49.62 L333.12,52.86 L333.8,56.04 L334.47,59.15"/>
<path d="M325.62,11.29 L326.27,14.76 L326.92,18.2 L327.58,21.63 L328.23,25.02 L328.88,28.38 L329.54,31.7 L330.19,34.99 L330.84,38.24 L331.49,41.44 L332.15,44.6 L332.8,47.69 L333.45,50.73 L334.1,53.7"/>
<path d="M326.24,11.29 L326.87,14.59 L327.49,17.86 L328.12,21.11 L328.75,24.32 L329.38,27.5 L330.01,30.64 L330.64,33.73 L331.27,36.78 L331.9,39.79 L332.52,42.73 L333.15,45.62 L333.78,48.45"/>
<path d="M326.85,11.29 L327.46,14.4 L328.06,17.49 L328.67,20.54 L329.27,23.56 L329.88,26.54 L330.48,29.48 L331.09,32.37 L331.69,35.22 L332.3,38.01 L332.9,40.74 L333.51,43.41"/>
<path d="M327.47,11.29 L328.05,14.2 L328.63,17.09 L329.21,19.94 L329.79,22.75 L330.37,25.52 L330.96,28.24 L331.54,30.92 L332.12,33.54 L332.7,36.11"/>
<path d="M328.08,11.29 L328.64,13.99 L329.2,16.66 L329.75,19.29 L330.31,21.88 L330.87,24.42 L331.43,26.92 L331.98,29.37 L332.54,31.77"/>
<path d="M328.69,11.29 L329.23,13.76 L329.76,16.2 L330.29,18.59 L330.83,20.95 L331.36,23.26 L331.89,25.52"/>
<path d="M322.52,270.21 L323.29,266.13 L324.06,262.05 L324.84,257.98 L325.61,253.92 L326.38,249.87 L327.15,245.83 L327.93,241.8 L328.7,237.79 L329.47,233.8 L330.25,229.83 L331.02,225.87 L331.79,221.95 L332.56,218.05 L333.34,214.18 L334.11,210.36 L334.88,206.58 L335.65,202.85"/>
<path d="M323.14,270.21 L323.89,266.23 L324.64,262.25 L325.39,258.28 L326.13,254.33 L326.88,250.4 L327.63,246.48 L328.38,242.57 L329.13,238.69 L329.88,234.84 L330.63,231 L331.37,227.2 L332.12,223.43 L332.87,219.7 L333.62,216.01 L334.37,212.38 L335.12,208.8 L335.87,205.29"/>
<path d="M323.76,270.21 L324.48,266.34 L325.21,262.49 L325.93,258.65 L326.66,254.82 L327.38,251.02 L328.11,247.24 L328.83,243.48 L329.56,239.75 L330.28,236.04 L331.01,232.37 L331.73,228.74 L332.46,225.15 L333.18,221.6 L333.91,218.11 L334.63,214.68 L335.35,211.33"/>
<path d="M324.38,270.21 L325.08,266.48 L325.78,262.76 L326.48,259.06 L327.18,255.39 L327.88,251.73 L328.58,248.11 L329.28,244.51 L329.99,240.94 L330.69,237.41 L331.39,233.92 L332.09,230.48 L332.79,227.08 L333.49,223.74 L334.19,220.47 L334.89,217.26"/>
<path d="M325,270.21 L325.68,266.63 L326.35,263.07 L327.03,259.53 L327.71,256.02 L328.38,252.54 L329.06,249.08 L329.74,245.66 L330.41,242.28 L331.09,238.95 L331.77,235.65 L332.44,232.41 L333.12,229.22 L333.8,226.1 L334.47,223.05"/>
<path d="M325.62,270.21 L326.27,266.8 L326.92,263.41 L327.57,260.05 L328.23,256.72 L328.88,253.42 L329.53,250.16 L330.19,246.94 L330.84,243.76 L331.49,240.63 L332.14,237.55 L332.8,234.52 L333.45,231.56 L334.1,228.66"/>
<path d="M326.23,270.21 L326.86,266.99 L327.49,263.79 L328.12,260.63 L328.75,257.49 L329.38,254.4 L330.01,251.34 L330.64,248.33 L331.26,245.37 L331.89,242.45 L332.52,239.59 L333.15,236.8"/>
<path d="M326.85,270.21 L327.45,267.19 L328.06,264.2 L328.66,261.25 L329.27,258.33 L329.87,255.46 L330.48,252.62 L331.08,249.83 L331.69,247.1 L332.29,244.41 L332.9,241.79"/>
<path d="M327.46,270.21 L328.04,267.42 L328.62,264.65 L329.2,261.92 L329.79,259.24 L330.37,256.59 L330.95,253.99 L331.53,251.44 L332.11,248.95 L332.69,246.51"/>
<path d="M328.07,270.21 L328.63,267.65 L329.19,265.13 L329.74,262.65 L330.3,260.21 L330.86,257.81 L331.42,255.46 L331.97,253.16"/>
<path d="M328.68,270.21 L329.21,267.91 L329.75,265.65 L330.28,263.42 L330.81,261.24 L331.35,259.1"/>
</g>
<g stroke="#2a2aa4" stroke-dasharray="9.5 6.4 0.9 6.9" stroke-dashoffset="16.8" stroke-width="0.9">
<path d="M138.5,53.2 L140.3,51.3 L142.5,49.9 L145,49.6 L148,50.4 L150.6,51.43 L153.6,51.89 L156.6,52.39 L159.6,52.92 L162.6,53.49 L165.6,54.1 L168.6,54.74 L171.6,55.41 L174.6,56.12 L177.6,56.85 L180.6,57.61 L183.6,58.4 L186.6,59.22 L189.6,60.06 L192.6,60.92 L195.6,61.81 L198.6,62.71 L201.6,63.64 L204.6,64.58 L207.6,65.53 L210.6,66.5 L213.6,67.49 L216.6,68.48 L219.6,69.49 L222.6,70.51 L225.6,71.53 L228.6,72.56 L231.6,73.6 L234.6,74.63 L237.6,75.67 L240.6,76.71 L243.6,77.75 L246.6,78.79 L249.6,79.83 L252.6,80.86 L255.6,81.88 L258.6,82.9 L261.6,83.9 L264.6,84.9 L267.6,85.88 L270.6,86.86 L273.6,87.81 L276.6,88.75 L279.6,89.68 L282.6,90.58 L285.6,91.47 L288.6,92.33 L291.6,93.17 L294.6,93.99 L297.6,94.78 L300.6,95.54 L303.6,96.28 L306.6,96.98 L309.6,97.66 L312.6,98.3 L315.6,98.9 L318.6,99.48 L321.6,100.01 L324.6,100.51 L327.6,100.97 L330.6,101.38 L333.6,101.76 L336.6,102.09 L339.1,102.33 L339.14,104 L339.83,108 L340.53,112 L341.22,116 L341.91,120 L342.6,124 L343.29,128 L343.99,132 L344.68,136 L345.37,140 L346.06,144 L346.75,148 L347.45,152 L348.14,156 L348.83,160 L349.52,164 L350.21,168 L350.91,172 L351.6,176 L352.29,180 L352.98,184 L353.67,188 L354.37,192 L355.06,196 L355.75,200 L356.44,204 L357.13,208 L357.83,212 L358.52,216 L359.21,220 L359.9,224 L360.59,228 L361.29,232 L361.98,236 L362.67,240 L363.36,244 L364.05,248 L364.75,252 L365.44,256 L366.13,260 L366.82,264 L367.51,268"/>
<path d="M112.23,269.5 L112.92,265.5 L113.61,261.5 L114.3,257.5 L114.99,253.5 L115.69,249.5 L116.38,245.5 L117.07,241.5 L117.76,237.5 L118.45,233.5 L119.15,229.5 L119.84,225.5 L120.53,221.5 L121.22,217.5 L121.91,213.5 L122.61,209.5 L123.3,205.5 L123.99,201.5 L124.68,197.5 L125.37,193.5 L126.07,189.5 L126.76,185.5 L127.45,181.5 L128.14,177.5 L128.83,173.5 L129.53,169.5 L130.22,165.5 L130.91,161.5 L131.6,157.5 L132.29,153.5 L132.99,149.5 L133.68,145.5 L134.37,141.5 L135.06,137.5 L135.75,133.5 L136.45,129.5 L137.14,125.5 L137.83,121.5 L138.52,117.5 L139.21,113.5 L139.91,109.5 L140.6,105.5 L141.17,101.98 L144.17,101.72 L147.17,101.41 L150.17,101.05 L153.17,100.65 L156.17,100.2 L159.17,99.7 L162.17,99.17 L165.17,98.59 L168.17,97.98 L171.17,97.32 L174.17,96.64 L177.17,95.91 L180.17,95.16 L183.17,94.37 L186.17,93.55 L189.17,92.71 L192.17,91.84 L195.17,90.95 L198.17,90.03 L201.17,89.09 L204.17,88.13 L207.17,87.15 L210.17,86.16 L213.17,85.15 L216.17,84.12 L219.17,83.09 L222.17,82.04 L225.17,80.99 L228.17,79.92 L231.17,78.86 L234.17,77.78 L237.17,76.71 L240.17,75.63 L243.17,74.56 L246.17,73.49 L249.17,72.42 L252.17,71.35 L255.17,70.3 L258.17,69.25 L261.17,68.21 L264.17,67.19 L267.17,66.18 L270.17,65.18 L273.17,64.2 L276.17,63.24 L279.17,62.29 L282.17,61.37 L285.17,60.47 L288.17,59.6 L291.17,58.75 L294.17,57.93 L297.17,57.14 L300.17,56.38 L303.17,55.65 L306.17,54.96 L309.17,54.3 L312.17,53.68 L315.17,53.09 L318.17,52.55 L321.17,52.05 L324.17,51.6 L327.17,51.18 L332.5,50.3 L335.5,49.6 L337.8,49.9 L340,51.3 L341.5,53"/>
</g></g>
<g stroke="#4a4a4a" stroke-width="1.25" fill="none">
<rect x="82.5" y="12.5" width="316.0" height="257.0"/>
<path d="M82.5,12.5 h3 M398.5,12.5 h-3 M82.5,76.5 h3 M398.5,76.5 h-3 M82.5,140.5 h3 M398.5,140.5 h-3 M82.5,205.5 h3 M398.5,205.5 h-3 M82.5,269.5 h3 M398.5,269.5 h-3 M134.5,269.5 v-3 M134.5,12.5 v3 M345.5,269.5 v-3 M345.5,12.5 v3"/>
</g>
<g style="font-family:'Liberation Sans',Arial,sans-serif;stroke:#000;stroke-width:0.25px;font-size:14.8px" fill="#000">
<text x="54.8" y="18.2">0.2</text>
<text x="54.7" y="82.4">0.1</text>
<text x="68.1" y="146.6">0</text>
<text x="46" y="210.9">–0.1</text>
<text x="46" y="276">–0.2</text>
</g>
<text style="font-family:'Liberation Sans',Arial,sans-serif;stroke:#000;stroke-width:0.25px;font-size:15.5px" x="128.6" y="289.3">K</text>
<text style="font-family:'Liberation Sans',Arial,sans-serif;stroke:#000;stroke-width:0.25px;font-size:15.5px" x="338.3" y="289.3">K′</text>
<text style="font-family:'Liberation Sans',Arial,sans-serif;stroke:#000;stroke-width:0.25px;font-size:15.6px" transform="translate(34.9,141.9) rotate(-90) scale(0.74,1)" text-anchor="middle">E</text>
<text style="font-family:'Liberation Sans',Arial,sans-serif;stroke:#000;stroke-width:0.25px;font-size:19.6px" x="8.7" y="15.6">(a)</text>
<rect x="168.8" y="217.7" width="141.1" height="44.8" fill="#fff" stroke="#3a3a3a" stroke-width="1"/>
<path d="M178.3,230.1 H226.5" stroke="#2a2aa4" stroke-width="1" stroke-dasharray="0.8 6.5 9.5 7" fill="none"/>
<path d="M178.1,250.2 H227" stroke="#c80c16" stroke-width="1" fill="none"/>
<text style="font-family:'Liberation Sans',Arial,sans-serif;stroke:#000;stroke-width:0.25px;font-size:15.2px" x="232.3" y="235.8">spin up</text>
<text style="font-family:'Liberation Sans',Arial,sans-serif;stroke:#000;stroke-width:0.25px;font-size:15.2px" x="232.3" y="255.4">spin down</text>
<text style="font-family:'Liberation Sans',Arial,sans-serif;stroke:#000;stroke-width:0.25px;font-size:20.4px" x="8.6" y="335.4">(b)</text>
<g clip-path="url(#plane)">
<rect x="0" y="320" width="457" height="56.3" fill="#a4a4a4"/>
<rect x="0" y="376.3" width="457" height="51.4" fill="#b6a98a"/>
<rect x="0" y="427.7" width="457" height="52" fill="#d2d2d2"/>
</g>
<path d="M170.1,334.4 L187.6,334.4 M170.1,334.4 L146.15,349.6 M187.6,334.4 L181.15,349.6 M222.6,334.4 L240.1,334.4 M222.6,334.4 L198.65,349.6 M240.1,334.4 L233.65,349.6 M275.1,334.4 L292.6,334.4 M275.1,334.4 L251.15,349.6 M292.6,334.4 L286.15,349.6 M327.6,334.4 L345.1,334.4 M327.6,334.4 L303.65,349.6 M345.1,334.4 L338.65,349.6 M380.1,334.4 L397.6,334.4 M380.1,334.4 L356.15,349.6 M397.6,334.4 L391.15,349.6 M181.15,349.6 L198.65,349.6 M233.65,349.6 L251.15,349.6 M286.15,349.6 L303.65,349.6 M338.65,349.6 L356.15,349.6 M391.15,349.6 L408.65,349.6 M139.7,364.8 L157.2,364.8 M139.7,364.8 L146.15,349.6 M139.7,364.8 L115.75,380 M157.2,364.8 L181.15,349.6 M157.2,364.8 L150.75,380 M192.2,364.8 L209.7,364.8 M192.2,364.8 L198.65,349.6 M192.2,364.8 L168.25,380 M209.7,364.8 L233.65,349.6 M209.7,364.8 L203.25,380 M244.7,364.8 L262.2,364.8 M244.7,364.8 L251.15,349.6 M244.7,364.8 L220.75,380 M262.2,364.8 L286.15,349.6 M262.2,364.8 L255.75,380 M297.2,364.8 L314.7,364.8 M297.2,364.8 L303.65,349.6 M297.2,364.8 L273.25,380 M314.7,364.8 L338.65,349.6 M314.7,364.8 L308.25,380 M349.7,364.8 L367.2,364.8 M349.7,364.8 L356.15,349.6 M349.7,364.8 L325.75,380 M367.2,364.8 L391.15,349.6 M367.2,364.8 L360.75,380 M402.2,364.8 L408.65,349.6 M402.2,364.8 L378.25,380 M150.75,380 L168.25,380 M203.25,380 L220.75,380 M255.75,380 L273.25,380 M308.25,380 L325.75,380 M360.75,380 L378.25,380 M109.3,395.2 L126.8,395.2 M109.3,395.2 L115.75,380 M109.3,395.2 L85.35,410.4 M126.8,395.2 L150.75,380 M126.8,395.2 L120.35,410.4 M161.8,395.2 L179.3,395.2 M161.8,395.2 L168.25,380 M161.8,395.2 L137.85,410.4 M179.3,395.2 L203.25,380 M179.3,395.2 L172.85,410.4 M214.3,395.2 L231.8,395.2 M214.3,395.2 L220.75,380 M214.3,395.2 L190.35,410.4 M231.8,395.2 L255.75,380 M231.8,395.2 L225.35,410.4 M266.8,395.2 L284.3,395.2 M266.8,395.2 L273.25,380 M266.8,395.2 L242.85,410.4 M284.3,395.2 L308.25,380 M284.3,395.2 L277.85,410.4 M319.3,395.2 L336.8,395.2 M319.3,395.2 L325.75,380 M319.3,395.2 L295.35,410.4 M336.8,395.2 L360.75,380 M336.8,395.2 L330.35,410.4 M371.8,395.2 L378.25,380 M371.8,395.2 L347.85,410.4 M120.35,410.4 L137.85,410.4 M172.85,410.4 L190.35,410.4 M225.35,410.4 L242.85,410.4 M277.85,410.4 L295.35,410.4 M330.35,410.4 L347.85,410.4 M78.9,425.6 L96.4,425.6 M78.9,425.6 L85.35,410.4 M78.9,425.6 L54.95,440.8 M96.4,425.6 L120.35,410.4 M96.4,425.6 L89.95,440.8 M131.4,425.6 L148.9,425.6 M131.4,425.6 L137.85,410.4 M131.4,425.6 L107.45,440.8 M148.9,425.6 L172.85,410.4 M148.9,425.6 L142.45,440.8 M183.9,425.6 L201.4,425.6 M183.9,425.6 L190.35,410.4 M183.9,425.6 L159.95,440.8 M201.4,425.6 L225.35,410.4 M201.4,425.6 L194.95,440.8 M236.4,425.6 L253.9,425.6 M236.4,425.6 L242.85,410.4 M236.4,425.6 L212.45,440.8 M253.9,425.6 L277.85,410.4 M253.9,425.6 L247.45,440.8 M288.9,425.6 L306.4,425.6 M288.9,425.6 L295.35,410.4 M288.9,425.6 L264.95,440.8 M306.4,425.6 L330.35,410.4 M306.4,425.6 L299.95,440.8 M341.4,425.6 L347.85,410.4 M341.4,425.6 L317.45,440.8 M89.95,440.8 L107.45,440.8 M142.45,440.8 L159.95,440.8 M194.95,440.8 L212.45,440.8 M247.45,440.8 L264.95,440.8 M299.95,440.8 L317.45,440.8 M48.5,456 L66,456 M48.5,456 L54.95,440.8 M66,456 L89.95,440.8 M66,456 L59.55,471.2 M101,456 L118.5,456 M101,456 L107.45,440.8 M101,456 L77.05,471.2 M118.5,456 L142.45,440.8 M118.5,456 L112.05,471.2 M153.5,456 L171,456 M153.5,456 L159.95,440.8 M153.5,456 L129.55,471.2 M171,456 L194.95,440.8 M171,456 L164.55,471.2 M206,456 L223.5,456 M206,456 L212.45,440.8 M206,456 L182.05,471.2 M223.5,456 L247.45,440.8 M223.5,456 L217.05,471.2 M258.5,456 L276,456 M258.5,456 L264.95,440.8 M258.5,456 L234.55,471.2 M276,456 L299.95,440.8 M276,456 L269.55,471.2 M311,456 L317.45,440.8 M311,456 L287.05,471.2 M59.55,471.2 L77.05,471.2 M112.05,471.2 L129.55,471.2 M164.55,471.2 L182.05,471.2 M217.05,471.2 L234.55,471.2 M269.55,471.2 L287.05,471.2" stroke="#e4d656" stroke-width="0.9" fill="none"/>
<g style="font-family:'Liberation Serif','Times New Roman',serif;font-size:19px" fill="#000">
<text x="147.3" y="359.8" font-style="italic">E</text>
<text x="159.8" y="364.8" font-style="italic" font-size="10.8">z</text>
<text transform="translate(170.6,360.6) scale(1.3,1.1)">&gt;</text>
<text x="186" y="359.8">0</text>
</g>
<g style="font-family:'Liberation Serif','Times New Roman',serif;font-size:19px" fill="#000">
<text x="100" y="410.4" font-style="italic">E</text>
<text x="112.6" y="415.4" font-style="italic" font-size="10.8">z</text>
<text transform="translate(122,412.6) scale(1.4,1.05)">=</text>
<text x="139.8" y="410.4">0</text>
</g>
<g style="font-family:'Liberation Serif','Times New Roman',serif;font-size:19px" fill="#000">
<text x="52" y="457.4" font-style="italic">E</text>
<text x="64.6" y="462.4" font-style="italic" font-size="10.8">z</text>
<text transform="translate(74.6,458.3) scale(1.15,1.05)">&lt;</text>
<text x="90" y="457.4">0</text>
</g>
<g fill="url(#atom)" stroke="#555" stroke-width="0.9"><circle cx="170.1" cy="334.4" r="2.75"/> <circle cx="187.6" cy="334.4" r="2.75"/> <circle cx="222.6" cy="334.4" r="2.75"/> <circle cx="240.1" cy="334.4" r="2.75"/> <circle cx="275.1" cy="334.4" r="2.75"/> <circle cx="292.6" cy="334.4" r="2.75"/> <circle cx="327.6" cy="334.4" r="2.75"/> <circle cx="345.1" cy="334.4" r="2.75"/> <circle cx="380.1" cy="334.4" r="2.75"/> <circle cx="397.6" cy="334.4" r="2.75"/> <circle cx="146.15" cy="349.6" r="2.75"/> <circle cx="181.15" cy="349.6" r="2.75"/> <circle cx="198.65" cy="349.6" r="2.75"/> <circle cx="233.65" cy="349.6" r="2.75"/> <circle cx="251.15" cy="349.6" r="2.75"/> <circle cx="286.15" cy="349.6" r="2.75"/> <circle cx="303.65" cy="349.6" r="2.75"/> <circle cx="338.65" cy="349.6" r="2.75"/> <circle cx="356.15" cy="349.6" r="2.75"/> <circle cx="391.15" cy="349.6" r="2.75"/> <circle cx="408.65" cy="349.6" r="2.75"/> <circle cx="139.7" cy="364.8" r="2.75"/> <circle cx="157.2" cy="364.8" r="2.75"/> <circle cx="192.2" cy="364.8" r="2.75"/> <circle cx="209.7" cy="364.8" r="2.75"/> <circle cx="244.7" cy="364.8" r="2.75"/> <circle cx="262.2" cy="364.8" r="2.75"/> <circle cx="297.2" cy="364.8" r="2.75"/> <circle cx="314.7" cy="364.8" r="2.75"/> <circle cx="349.7" cy="364.8" r="2.75"/> <circle cx="367.2" cy="364.8" r="2.75"/> <circle cx="402.2" cy="364.8" r="2.75"/> <circle cx="115.75" cy="380" r="2.75"/> <circle cx="150.75" cy="380" r="2.75"/> <circle cx="168.25" cy="380" r="2.75"/> <circle cx="203.25" cy="380" r="2.75"/> <circle cx="220.75" cy="380" r="2.75"/> <circle cx="255.75" cy="380" r="2.75"/> <circle cx="273.25" cy="380" r="2.75"/> <circle cx="308.25" cy="380" r="2.75"/> <circle cx="325.75" cy="380" r="2.75"/> <circle cx="360.75" cy="380" r="2.75"/> <circle cx="378.25" cy="380" r="2.75"/> <circle cx="109.3" cy="395.2" r="2.75"/> <circle cx="126.8" cy="395.2" r="2.75"/> <circle cx="161.8" cy="395.2" r="2.75"/> <circle cx="179.3" cy="395.2" r="2.75"/> <circle cx="214.3" cy="395.2" r="2.75"/> <circle cx="231.8" cy="395.2" r="2.75"/> <circle cx="266.8" cy="395.2" r="2.75"/> <circle cx="284.3" cy="395.2" r="2.75"/> <circle cx="319.3" cy="395.2" r="2.75"/> <circle cx="336.8" cy="395.2" r="2.75"/> <circle cx="371.8" cy="395.2" r="2.75"/> <circle cx="85.35" cy="410.4" r="2.75"/> <circle cx="120.35" cy="410.4" r="2.75"/> <circle cx="137.85" cy="410.4" r="2.75"/> <circle cx="172.85" cy="410.4" r="2.75"/> <circle cx="190.35" cy="410.4" r="2.75"/> <circle cx="225.35" cy="410.4" r="2.75"/> <circle cx="242.85" cy="410.4" r="2.75"/> <circle cx="277.85" cy="410.4" r="2.75"/> <circle cx="295.35" cy="410.4" r="2.75"/> <circle cx="330.35" cy="410.4" r="2.75"/> <circle cx="347.85" cy="410.4" r="2.75"/> <circle cx="78.9" cy="425.6" r="2.75"/> <circle cx="96.4" cy="425.6" r="2.75"/> <circle cx="131.4" cy="425.6" r="2.75"/> <circle cx="148.9" cy="425.6" r="2.75"/> <circle cx="183.9" cy="425.6" r="2.75"/> <circle cx="201.4" cy="425.6" r="2.75"/> <circle cx="236.4" cy="425.6" r="2.75"/> <circle cx="253.9" cy="425.6" r="2.75"/> <circle cx="288.9" cy="425.6" r="2.75"/> <circle cx="306.4" cy="425.6" r="2.75"/> <circle cx="341.4" cy="425.6" r="2.75"/> <circle cx="54.95" cy="440.8" r="2.75"/> <circle cx="89.95" cy="440.8" r="2.75"/> <circle cx="107.45" cy="440.8" r="2.75"/> <circle cx="142.45" cy="440.8" r="2.75"/> <circle cx="159.95" cy="440.8" r="2.75"/> <circle cx="194.95" cy="440.8" r="2.75"/> <circle cx="212.45" cy="440.8" r="2.75"/> <circle cx="247.45" cy="440.8" r="2.75"/> <circle cx="264.95" cy="440.8" r="2.75"/> <circle cx="299.95" cy="440.8" r="2.75"/> <circle cx="317.45" cy="440.8" r="2.75"/> <circle cx="48.5" cy="456" r="2.75"/> <circle cx="66" cy="456" r="2.75"/> <circle cx="101" cy="456" r="2.75"/> <circle cx="118.5" cy="456" r="2.75"/> <circle cx="153.5" cy="456" r="2.75"/> <circle cx="171" cy="456" r="2.75"/> <circle cx="206" cy="456" r="2.75"/> <circle cx="223.5" cy="456" r="2.75"/> <circle cx="258.5" cy="456" r="2.75"/> <circle cx="276" cy="456" r="2.75"/> <circle cx="311" cy="456" r="2.75"/> <circle cx="59.55" cy="471.2" r="2.75"/> <circle cx="77.05" cy="471.2" r="2.75"/> <circle cx="112.05" cy="471.2" r="2.75"/> <circle cx="129.55" cy="471.2" r="2.75"/> <circle cx="164.55" cy="471.2" r="2.75"/> <circle cx="182.05" cy="471.2" r="2.75"/> <circle cx="217.05" cy="471.2" r="2.75"/> <circle cx="234.55" cy="471.2" r="2.75"/> <circle cx="269.55" cy="471.2" r="2.75"/> <circle cx="287.05" cy="471.2" r="2.75"/></g>
<g stroke-width="3.4" fill="none">
<path d="M129.4,373.4 H386.4" stroke="#c41420"/>
<path d="M122.6,380.2 H379.3" stroke="#1e0c7c"/>
<path d="M78.9,424.3 H335.7" stroke="#c41420"/>
<path d="M72.1,431.1 H328.8" stroke="#1e0c7c"/>
</g>
<path d="M80.1,399.2 L152.5,327.2 M455.9,327.2 L383.9,399.2 M376.9,406.4 L302.9,478.4 H0 L73.3,406.1" stroke="#111" stroke-width="1.2" fill="none"/>
<path d="M152.5,327.2 H455.9" stroke="#3a3a3a" stroke-width="1.3" fill="none"/>
<path d="M71.2,402 l0.2,3.6 q0.2,1.2 1.6,0.9 q2,-0.3 2.2,1.8 l0.2,3.2 M78.1,395 l0.2,3.6 q0.2,1.2 1.6,0.9 q2,-0.3 2.2,1.8 l0.2,3.2 M381.5,395 l0.2,3.6 q0.2,1.2 1.6,0.9 q2,-0.3 2.2,1.8 l0.2,3.2 M374.5,402.2 l0.2,3.6 q0.2,1.2 1.6,0.9 q2,-0.3 2.2,1.8 l0.2,3.2" stroke="#111" stroke-width="1.1" fill="none"/>
<path d="M265,353.8 V378.4" stroke="#c81818" stroke-width="1.8"/><circle cx="265" cy="366.4" r="7.1" fill="url(#rball)"/><text style="font-family:'Liberation Serif','Times New Roman',serif;font-size:13.5px;font-style:italic" x="265.3" y="370.9" text-anchor="middle">K</text><path d="M272.4,366.4 H286" stroke="#000" stroke-width="1.7"/><path d="M296,366.4 L284,363.9 L286.2,366.4 L284,368.9 Z" fill="#000"/>
<circle cx="244.1" cy="387.5" r="6.9" fill="url(#bball)"/><polygon points="244.1,375.5 246,387.5 244.9,387.5 244.9,400.4 243.3,400.4 243.3,387.5 242.2,387.5" fill="#1e9a30"/><text style="font-family:'Liberation Serif','Times New Roman',serif;font-size:13.5px;font-style:italic" x="244.4" y="392" text-anchor="middle">K′</text><path d="M236.9,387.5 H221.8" stroke="#000" stroke-width="1.7"/><path d="M211.8,387.5 L223.8,385 L221.6,387.5 L223.8,390 Z" fill="#000"/>
<circle cx="214.1" cy="416.6" r="7.0" fill="url(#rball)"/><polygon points="214.1,404.4 216,416.5 214.9,416.5 214.9,430.2 213.3,430.2 213.3,416.5 212.2,416.5" fill="#1e9a30"/><text style="font-family:'Liberation Serif','Times New Roman',serif;font-size:13.5px;font-style:italic" x="214.4" y="421.1" text-anchor="middle">K</text><path d="M221.4,416.6 H236.3" stroke="#000" stroke-width="1.7"/><path d="M246.3,416.6 L234.3,414.1 L236.5,416.6 L234.3,419.1 Z" fill="#000"/>
<circle cx="193.1" cy="438.3" r="6.9" fill="url(#bball)"/><polygon points="193.1,450.8 195,438.5 193.9,438.5 193.9,425.2 192.3,425.2 192.3,438.5 191.2,438.5" fill="#d01818"/><text style="font-family:'Liberation Serif','Times New Roman',serif;font-size:13.5px;font-style:italic" x="193.4" y="442.8" text-anchor="middle">K′</text><path d="M185.9,438.3 H171" stroke="#000" stroke-width="1.7"/><path d="M161,438.3 L173,435.8 L170.8,438.3 L173,440.8 Z" fill="#000"/>
</svg>
</body></html>
